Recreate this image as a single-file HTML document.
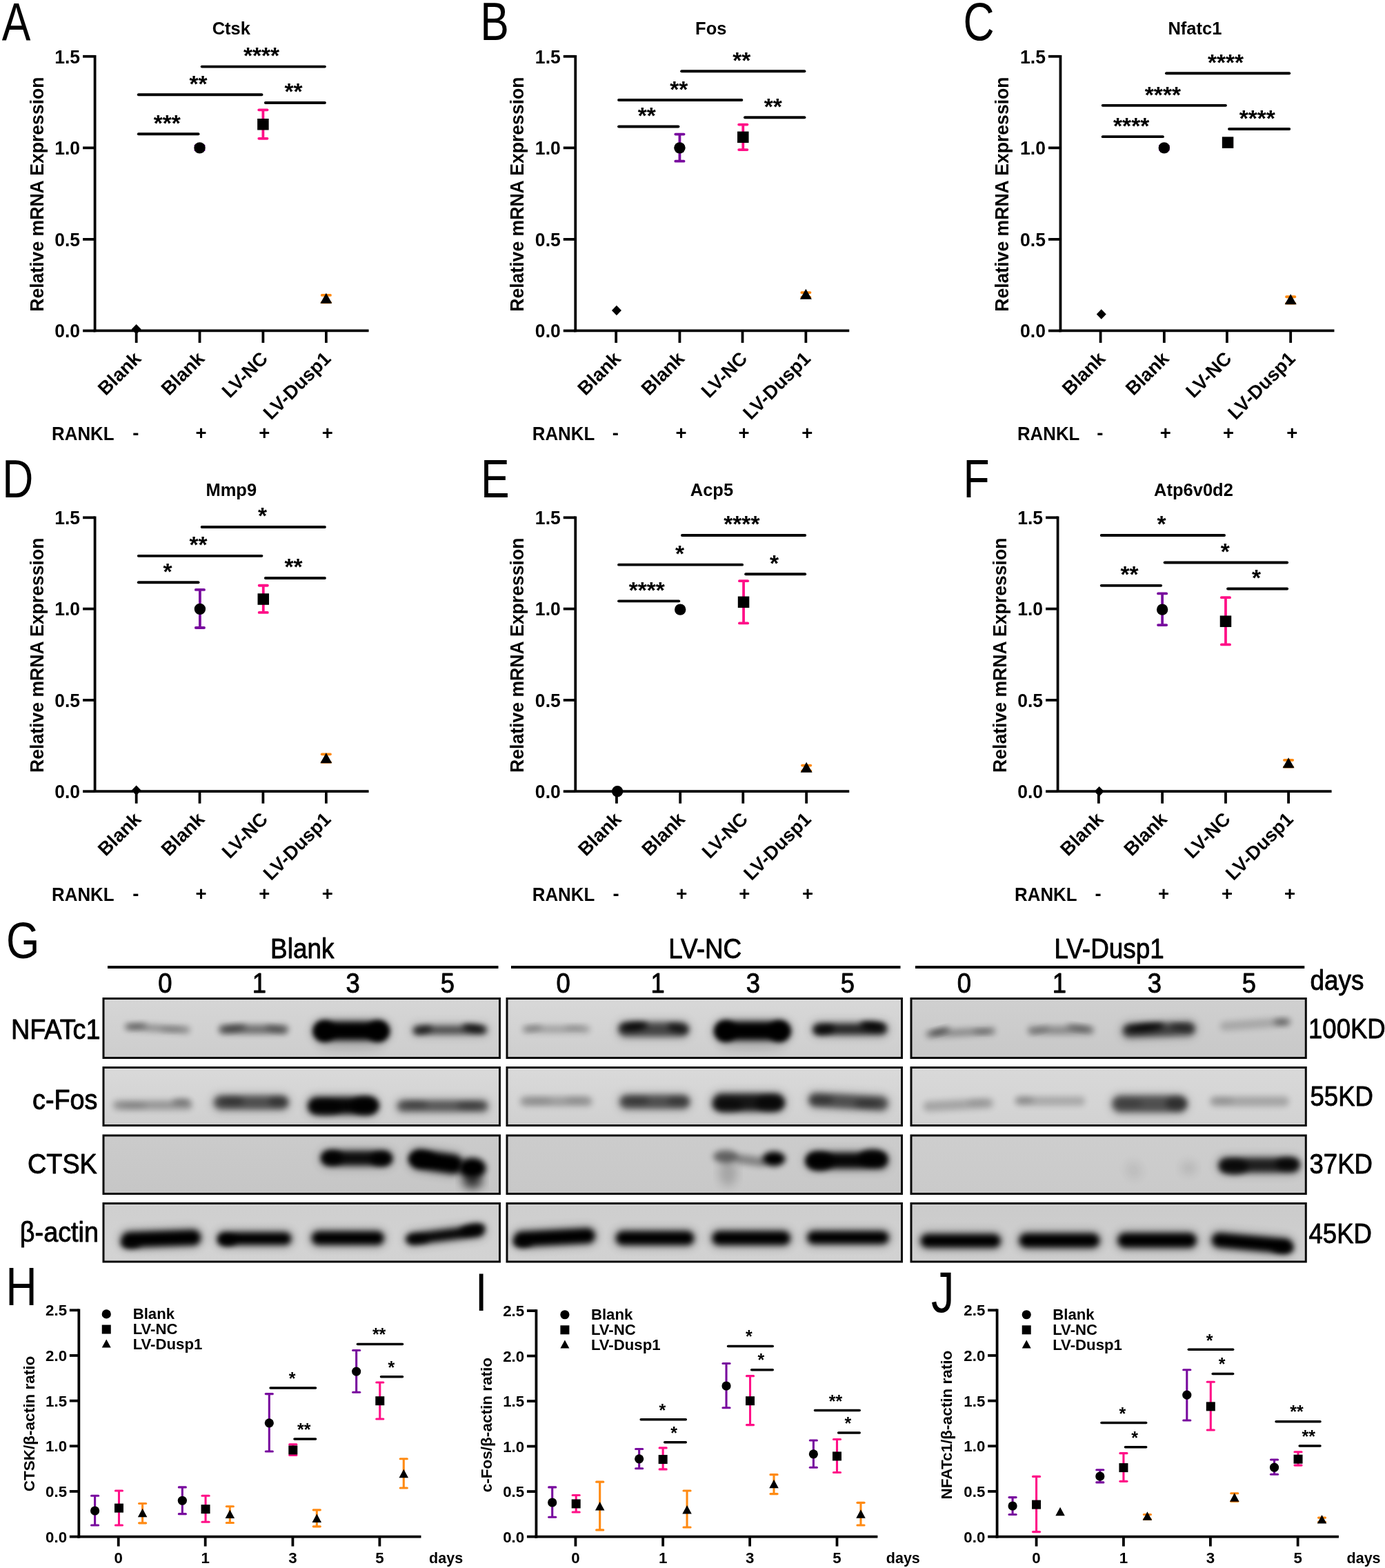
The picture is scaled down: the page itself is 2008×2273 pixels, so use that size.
<!DOCTYPE html>
<html><head><meta charset="utf-8"><title>Figure</title>
<style>html,body{margin:0;padding:0;background:#fff}svg{display:block}</style></head>
<body><svg width="2008" height="2273" viewBox="0 0 2008 2273">
<rect width="2008" height="2273" fill="#fff"/>
<g transform="translate(2.76 59.3) scale(0.8 1)"><text x="0" y="0" font-size="78" text-anchor="start" font-family="Liberation Sans, Arial, sans-serif">A</text></g>
<text x="335.27" y="50.39" font-size="25.5" text-anchor="middle" font-family="Liberation Sans, Arial, sans-serif" font-weight="bold">Ctsk</text>
<line x1="137.6" y1="79.88" x2="137.6" y2="481.36" stroke="#000" stroke-width="3.8" stroke-linecap="butt"/>
<line x1="135.7" y1="479.46" x2="534.6" y2="479.46" stroke="#000" stroke-width="3.8" stroke-linecap="butt"/>
<line x1="120.1" y1="81.78" x2="137.6" y2="81.78" stroke="#000" stroke-width="3.8" stroke-linecap="butt"/>
<g transform="translate(116.1 91.58) scale(0.965 1)"><text x="0" y="0" font-size="27.5" text-anchor="end" font-family="Liberation Sans, Arial, sans-serif" font-weight="bold">1.5</text></g>
<line x1="120.1" y1="214.34" x2="137.6" y2="214.34" stroke="#000" stroke-width="3.8" stroke-linecap="butt"/>
<g transform="translate(116.1 224.14) scale(0.965 1)"><text x="0" y="0" font-size="27.5" text-anchor="end" font-family="Liberation Sans, Arial, sans-serif" font-weight="bold">1.0</text></g>
<line x1="120.1" y1="346.9" x2="137.6" y2="346.9" stroke="#000" stroke-width="3.8" stroke-linecap="butt"/>
<g transform="translate(116.1 356.7) scale(0.965 1)"><text x="0" y="0" font-size="27.5" text-anchor="end" font-family="Liberation Sans, Arial, sans-serif" font-weight="bold">0.5</text></g>
<line x1="120.1" y1="479.46" x2="137.6" y2="479.46" stroke="#000" stroke-width="3.8" stroke-linecap="butt"/>
<g transform="translate(116.1 489.26) scale(0.965 1)"><text x="0" y="0" font-size="27.5" text-anchor="end" font-family="Liberation Sans, Arial, sans-serif" font-weight="bold">0.0</text></g>
<line x1="197.67" y1="479.46" x2="197.67" y2="496.96" stroke="#000" stroke-width="3.8" stroke-linecap="butt"/>
<line x1="289.53" y1="479.46" x2="289.53" y2="496.96" stroke="#000" stroke-width="3.8" stroke-linecap="butt"/>
<line x1="381.4" y1="479.46" x2="381.4" y2="496.96" stroke="#000" stroke-width="3.8" stroke-linecap="butt"/>
<line x1="472.87" y1="479.46" x2="472.87" y2="496.96" stroke="#000" stroke-width="3.8" stroke-linecap="butt"/>
<g transform="translate(62.6 281.62) rotate(-90) scale(0.967 1)"><text x="0" y="0" font-size="27.5" text-anchor="middle" font-family="Liberation Sans, Arial, sans-serif" font-weight="bold">Relative mRNA Expression</text></g>
<text x="206.17" y="521.46" font-size="27.5" text-anchor="end" font-family="Liberation Sans, Arial, sans-serif" font-weight="bold" transform="rotate(-45 206.17 521.46)">Blank</text>
<text x="298.03" y="521.46" font-size="27.5" text-anchor="end" font-family="Liberation Sans, Arial, sans-serif" font-weight="bold" transform="rotate(-45 298.03 521.46)">Blank</text>
<text x="389.9" y="521.46" font-size="27.5" text-anchor="end" font-family="Liberation Sans, Arial, sans-serif" font-weight="bold" transform="rotate(-45 389.9 521.46)">LV-NC</text>
<text x="481.37" y="521.46" font-size="27.5" text-anchor="end" font-family="Liberation Sans, Arial, sans-serif" font-weight="bold" transform="rotate(-45 481.37 521.46)">LV-Dusp1</text>
<g transform="translate(75.1 637.96) scale(0.94 1)"><text x="0" y="0" font-size="27.5" font-family="Liberation Sans, Arial, sans-serif" font-weight="bold">RANKL</text></g>
<text x="196.87" y="636.96" font-size="27.5" text-anchor="middle" font-family="Liberation Sans, Arial, sans-serif" font-weight="bold">-</text>
<text x="291.53" y="636.96" font-size="27.5" text-anchor="middle" font-family="Liberation Sans, Arial, sans-serif" font-weight="bold">+</text>
<text x="383.4" y="636.96" font-size="27.5" text-anchor="middle" font-family="Liberation Sans, Arial, sans-serif" font-weight="bold">+</text>
<text x="474.87" y="636.96" font-size="27.5" text-anchor="middle" font-family="Liberation Sans, Arial, sans-serif" font-weight="bold">+</text>
<polygon points="197.67,469.88 204.67,477.13 197.67,484.38 190.67,477.13"/>
<line x1="289.53" y1="211.24" x2="289.53" y2="217.44" stroke="#780a9e" stroke-width="3.8" stroke-linecap="butt"/>
<line x1="283.43" y1="211.24" x2="295.63" y2="211.24" stroke="#780a9e" stroke-width="3.8" stroke-linecap="round"/>
<line x1="283.43" y1="217.44" x2="295.63" y2="217.44" stroke="#780a9e" stroke-width="3.8" stroke-linecap="round"/>
<circle cx="289.53" cy="214.34" r="8.2"/>
<line x1="381.4" y1="159.3" x2="381.4" y2="200.78" stroke="#ff0f87" stroke-width="3.8" stroke-linecap="butt"/>
<line x1="375.3" y1="159.3" x2="387.5" y2="159.3" stroke="#ff0f87" stroke-width="3.8" stroke-linecap="round"/>
<line x1="375.3" y1="200.78" x2="387.5" y2="200.78" stroke="#ff0f87" stroke-width="3.8" stroke-linecap="round"/>
<rect x="373.15" y="171.98" width="16.5" height="16.5"/>
<line x1="472.87" y1="427.91" x2="472.87" y2="438.37" stroke="#ff8a12" stroke-width="3.8" stroke-linecap="butt"/>
<line x1="466.77" y1="427.91" x2="478.97" y2="427.91" stroke="#ff8a12" stroke-width="3.8" stroke-linecap="round"/>
<line x1="466.77" y1="438.37" x2="478.97" y2="438.37" stroke="#ff8a12" stroke-width="3.8" stroke-linecap="round"/>
<polygon points="472.87,424.63 481.37,439.63 464.37,439.63"/>
<line x1="200.79" y1="194.3" x2="287.58" y2="194.3" stroke="#000" stroke-width="3.9" stroke-linecap="round"/>
<text x="242.25" y="190.42" font-size="33.5" text-anchor="middle" font-family="Liberation Sans, Arial, sans-serif" font-weight="bold">***</text>
<line x1="200.79" y1="137.32" x2="379.45" y2="137.32" stroke="#000" stroke-width="3.9" stroke-linecap="round"/>
<text x="287.6" y="133.44" font-size="33.5" text-anchor="middle" font-family="Liberation Sans, Arial, sans-serif" font-weight="bold">**</text>
<line x1="292.65" y1="96.62" x2="470.92" y2="96.62" stroke="#000" stroke-width="3.9" stroke-linecap="round"/>
<text x="379.07" y="92.36" font-size="33.5" text-anchor="middle" font-family="Liberation Sans, Arial, sans-serif" font-weight="bold">****</text>
<line x1="384.9" y1="148.95" x2="470.92" y2="148.95" stroke="#000" stroke-width="3.9" stroke-linecap="round"/>
<text x="425.58" y="143.91" font-size="33.5" text-anchor="middle" font-family="Liberation Sans, Arial, sans-serif" font-weight="bold">**</text>
<g transform="translate(696.33 58.14) scale(0.8 1)"><text x="0" y="0" font-size="78" text-anchor="start" font-family="Liberation Sans, Arial, sans-serif">B</text></g>
<text x="1030.78" y="50.39" font-size="25.5" text-anchor="middle" font-family="Liberation Sans, Arial, sans-serif" font-weight="bold">Fos</text>
<line x1="834.26" y1="79.88" x2="834.26" y2="481.36" stroke="#000" stroke-width="3.8" stroke-linecap="butt"/>
<line x1="832.36" y1="479.46" x2="1231.26" y2="479.46" stroke="#000" stroke-width="3.8" stroke-linecap="butt"/>
<line x1="816.76" y1="81.78" x2="834.26" y2="81.78" stroke="#000" stroke-width="3.8" stroke-linecap="butt"/>
<g transform="translate(812.76 91.58) scale(0.965 1)"><text x="0" y="0" font-size="27.5" text-anchor="end" font-family="Liberation Sans, Arial, sans-serif" font-weight="bold">1.5</text></g>
<line x1="816.76" y1="214.34" x2="834.26" y2="214.34" stroke="#000" stroke-width="3.8" stroke-linecap="butt"/>
<g transform="translate(812.76 224.14) scale(0.965 1)"><text x="0" y="0" font-size="27.5" text-anchor="end" font-family="Liberation Sans, Arial, sans-serif" font-weight="bold">1.0</text></g>
<line x1="816.76" y1="346.9" x2="834.26" y2="346.9" stroke="#000" stroke-width="3.8" stroke-linecap="butt"/>
<g transform="translate(812.76 356.7) scale(0.965 1)"><text x="0" y="0" font-size="27.5" text-anchor="end" font-family="Liberation Sans, Arial, sans-serif" font-weight="bold">0.5</text></g>
<line x1="816.76" y1="479.46" x2="834.26" y2="479.46" stroke="#000" stroke-width="3.8" stroke-linecap="butt"/>
<g transform="translate(812.76 489.26) scale(0.965 1)"><text x="0" y="0" font-size="27.5" text-anchor="end" font-family="Liberation Sans, Arial, sans-serif" font-weight="bold">0.0</text></g>
<line x1="893.18" y1="479.46" x2="893.18" y2="496.96" stroke="#000" stroke-width="3.8" stroke-linecap="butt"/>
<line x1="985.43" y1="479.46" x2="985.43" y2="496.96" stroke="#000" stroke-width="3.8" stroke-linecap="butt"/>
<line x1="1076.51" y1="479.46" x2="1076.51" y2="496.96" stroke="#000" stroke-width="3.8" stroke-linecap="butt"/>
<line x1="1168.37" y1="479.46" x2="1168.37" y2="496.96" stroke="#000" stroke-width="3.8" stroke-linecap="butt"/>
<g transform="translate(759.26 281.62) rotate(-90) scale(0.967 1)"><text x="0" y="0" font-size="27.5" text-anchor="middle" font-family="Liberation Sans, Arial, sans-serif" font-weight="bold">Relative mRNA Expression</text></g>
<text x="901.68" y="521.46" font-size="27.5" text-anchor="end" font-family="Liberation Sans, Arial, sans-serif" font-weight="bold" transform="rotate(-45 901.68 521.46)">Blank</text>
<text x="993.93" y="521.46" font-size="27.5" text-anchor="end" font-family="Liberation Sans, Arial, sans-serif" font-weight="bold" transform="rotate(-45 993.93 521.46)">Blank</text>
<text x="1085.01" y="521.46" font-size="27.5" text-anchor="end" font-family="Liberation Sans, Arial, sans-serif" font-weight="bold" transform="rotate(-45 1085.01 521.46)">LV-NC</text>
<text x="1176.87" y="521.46" font-size="27.5" text-anchor="end" font-family="Liberation Sans, Arial, sans-serif" font-weight="bold" transform="rotate(-45 1176.87 521.46)">LV-Dusp1</text>
<g transform="translate(771.76 637.96) scale(0.94 1)"><text x="0" y="0" font-size="27.5" font-family="Liberation Sans, Arial, sans-serif" font-weight="bold">RANKL</text></g>
<text x="892.38" y="636.96" font-size="27.5" text-anchor="middle" font-family="Liberation Sans, Arial, sans-serif" font-weight="bold">-</text>
<text x="987.43" y="636.96" font-size="27.5" text-anchor="middle" font-family="Liberation Sans, Arial, sans-serif" font-weight="bold">+</text>
<text x="1078.51" y="636.96" font-size="27.5" text-anchor="middle" font-family="Liberation Sans, Arial, sans-serif" font-weight="bold">+</text>
<text x="1170.37" y="636.96" font-size="27.5" text-anchor="middle" font-family="Liberation Sans, Arial, sans-serif" font-weight="bold">+</text>
<polygon points="893.95,442.75 900.95,450 893.95,457.25 886.95,450"/>
<line x1="985.43" y1="194.57" x2="985.43" y2="233.72" stroke="#780a9e" stroke-width="3.8" stroke-linecap="butt"/>
<line x1="979.33" y1="194.57" x2="991.53" y2="194.57" stroke="#780a9e" stroke-width="3.8" stroke-linecap="round"/>
<line x1="979.33" y1="233.72" x2="991.53" y2="233.72" stroke="#780a9e" stroke-width="3.8" stroke-linecap="round"/>
<circle cx="985.43" cy="214.34" r="8.2"/>
<line x1="1077.29" y1="180.62" x2="1077.29" y2="217.05" stroke="#ff0f87" stroke-width="3.8" stroke-linecap="butt"/>
<line x1="1071.19" y1="180.62" x2="1083.39" y2="180.62" stroke="#ff0f87" stroke-width="3.8" stroke-linecap="round"/>
<line x1="1071.19" y1="217.05" x2="1083.39" y2="217.05" stroke="#ff0f87" stroke-width="3.8" stroke-linecap="round"/>
<rect x="1069.04" y="190.59" width="16.5" height="16.5"/>
<line x1="1168.37" y1="424.03" x2="1168.37" y2="431.01" stroke="#ff8a12" stroke-width="3.8" stroke-linecap="butt"/>
<line x1="1162.27" y1="424.03" x2="1174.47" y2="424.03" stroke="#ff8a12" stroke-width="3.8" stroke-linecap="round"/>
<line x1="1162.27" y1="431.01" x2="1174.47" y2="431.01" stroke="#ff8a12" stroke-width="3.8" stroke-linecap="round"/>
<polygon points="1168.37,418.82 1176.87,433.82 1159.87,433.82"/>
<line x1="897.07" y1="183.45" x2="983.48" y2="183.45" stroke="#000" stroke-width="3.9" stroke-linecap="round"/>
<text x="937.75" y="178.79" font-size="33.5" text-anchor="middle" font-family="Liberation Sans, Arial, sans-serif" font-weight="bold">**</text>
<line x1="897.07" y1="145.07" x2="1075.34" y2="145.07" stroke="#000" stroke-width="3.9" stroke-linecap="round"/>
<text x="984.26" y="140.81" font-size="33.5" text-anchor="middle" font-family="Liberation Sans, Arial, sans-serif" font-weight="bold">**</text>
<line x1="988.15" y1="103.21" x2="1166.42" y2="103.21" stroke="#000" stroke-width="3.9" stroke-linecap="round"/>
<text x="1075.35" y="98.56" font-size="33.5" text-anchor="middle" font-family="Liberation Sans, Arial, sans-serif" font-weight="bold">**</text>
<line x1="1080.01" y1="170.27" x2="1166.42" y2="170.27" stroke="#000" stroke-width="3.9" stroke-linecap="round"/>
<text x="1120.7" y="166" font-size="33.5" text-anchor="middle" font-family="Liberation Sans, Arial, sans-serif" font-weight="bold">**</text>
<g transform="translate(1396.42 58.14) scale(0.8 1)"><text x="0" y="0" font-size="78" text-anchor="start" font-family="Liberation Sans, Arial, sans-serif">C</text></g>
<text x="1732.42" y="50.39" font-size="25.5" text-anchor="middle" font-family="Liberation Sans, Arial, sans-serif" font-weight="bold">Nfatc1</text>
<line x1="1537.46" y1="79.88" x2="1537.46" y2="481.36" stroke="#000" stroke-width="3.8" stroke-linecap="butt"/>
<line x1="1535.56" y1="479.46" x2="1934.46" y2="479.46" stroke="#000" stroke-width="3.8" stroke-linecap="butt"/>
<line x1="1519.96" y1="81.78" x2="1537.46" y2="81.78" stroke="#000" stroke-width="3.8" stroke-linecap="butt"/>
<g transform="translate(1515.96 91.58) scale(0.965 1)"><text x="0" y="0" font-size="27.5" text-anchor="end" font-family="Liberation Sans, Arial, sans-serif" font-weight="bold">1.5</text></g>
<line x1="1519.96" y1="214.34" x2="1537.46" y2="214.34" stroke="#000" stroke-width="3.8" stroke-linecap="butt"/>
<g transform="translate(1515.96 224.14) scale(0.965 1)"><text x="0" y="0" font-size="27.5" text-anchor="end" font-family="Liberation Sans, Arial, sans-serif" font-weight="bold">1.0</text></g>
<line x1="1519.96" y1="346.9" x2="1537.46" y2="346.9" stroke="#000" stroke-width="3.8" stroke-linecap="butt"/>
<g transform="translate(1515.96 356.7) scale(0.965 1)"><text x="0" y="0" font-size="27.5" text-anchor="end" font-family="Liberation Sans, Arial, sans-serif" font-weight="bold">0.5</text></g>
<line x1="1519.96" y1="479.46" x2="1537.46" y2="479.46" stroke="#000" stroke-width="3.8" stroke-linecap="butt"/>
<g transform="translate(1515.96 489.26) scale(0.965 1)"><text x="0" y="0" font-size="27.5" text-anchor="end" font-family="Liberation Sans, Arial, sans-serif" font-weight="bold">0.0</text></g>
<line x1="1595.6" y1="479.46" x2="1595.6" y2="496.96" stroke="#000" stroke-width="3.8" stroke-linecap="butt"/>
<line x1="1687.84" y1="479.46" x2="1687.84" y2="496.96" stroke="#000" stroke-width="3.8" stroke-linecap="butt"/>
<line x1="1778.93" y1="479.46" x2="1778.93" y2="496.96" stroke="#000" stroke-width="3.8" stroke-linecap="butt"/>
<line x1="1871.18" y1="479.46" x2="1871.18" y2="496.96" stroke="#000" stroke-width="3.8" stroke-linecap="butt"/>
<g transform="translate(1462.46 281.62) rotate(-90) scale(0.967 1)"><text x="0" y="0" font-size="27.5" text-anchor="middle" font-family="Liberation Sans, Arial, sans-serif" font-weight="bold">Relative mRNA Expression</text></g>
<text x="1604.1" y="521.46" font-size="27.5" text-anchor="end" font-family="Liberation Sans, Arial, sans-serif" font-weight="bold" transform="rotate(-45 1604.1 521.46)">Blank</text>
<text x="1696.34" y="521.46" font-size="27.5" text-anchor="end" font-family="Liberation Sans, Arial, sans-serif" font-weight="bold" transform="rotate(-45 1696.34 521.46)">Blank</text>
<text x="1787.43" y="521.46" font-size="27.5" text-anchor="end" font-family="Liberation Sans, Arial, sans-serif" font-weight="bold" transform="rotate(-45 1787.43 521.46)">LV-NC</text>
<text x="1879.68" y="521.46" font-size="27.5" text-anchor="end" font-family="Liberation Sans, Arial, sans-serif" font-weight="bold" transform="rotate(-45 1879.68 521.46)">LV-Dusp1</text>
<g transform="translate(1474.96 637.96) scale(0.94 1)"><text x="0" y="0" font-size="27.5" font-family="Liberation Sans, Arial, sans-serif" font-weight="bold">RANKL</text></g>
<text x="1594.8" y="636.96" font-size="27.5" text-anchor="middle" font-family="Liberation Sans, Arial, sans-serif" font-weight="bold">-</text>
<text x="1689.84" y="636.96" font-size="27.5" text-anchor="middle" font-family="Liberation Sans, Arial, sans-serif" font-weight="bold">+</text>
<text x="1780.93" y="636.96" font-size="27.5" text-anchor="middle" font-family="Liberation Sans, Arial, sans-serif" font-weight="bold">+</text>
<text x="1873.18" y="636.96" font-size="27.5" text-anchor="middle" font-family="Liberation Sans, Arial, sans-serif" font-weight="bold">+</text>
<polygon points="1596.76,448.18 1603.76,455.43 1596.76,462.68 1589.76,455.43"/>
<line x1="1687.84" y1="211.63" x2="1687.84" y2="217.05" stroke="#780a9e" stroke-width="3.8" stroke-linecap="butt"/>
<line x1="1681.74" y1="211.63" x2="1693.94" y2="211.63" stroke="#780a9e" stroke-width="3.8" stroke-linecap="round"/>
<line x1="1681.74" y1="217.05" x2="1693.94" y2="217.05" stroke="#780a9e" stroke-width="3.8" stroke-linecap="round"/>
<circle cx="1687.84" cy="214.34" r="8.2"/>
<line x1="1780.09" y1="203.1" x2="1780.09" y2="210.85" stroke="#ff0f87" stroke-width="3.8" stroke-linecap="butt"/>
<line x1="1773.99" y1="203.1" x2="1786.19" y2="203.1" stroke="#ff0f87" stroke-width="3.8" stroke-linecap="round"/>
<line x1="1773.99" y1="210.85" x2="1786.19" y2="210.85" stroke="#ff0f87" stroke-width="3.8" stroke-linecap="round"/>
<rect x="1771.84" y="198.34" width="16.5" height="16.5"/>
<line x1="1871.18" y1="430.23" x2="1871.18" y2="439.53" stroke="#ff8a12" stroke-width="3.8" stroke-linecap="butt"/>
<line x1="1865.08" y1="430.23" x2="1877.28" y2="430.23" stroke="#ff8a12" stroke-width="3.8" stroke-linecap="round"/>
<line x1="1865.08" y1="439.53" x2="1877.28" y2="439.53" stroke="#ff8a12" stroke-width="3.8" stroke-linecap="round"/>
<polygon points="1871.18,426.18 1879.68,441.18 1862.68,441.18"/>
<line x1="1598.71" y1="198.17" x2="1685.89" y2="198.17" stroke="#000" stroke-width="3.9" stroke-linecap="round"/>
<text x="1640.17" y="193.52" font-size="33.5" text-anchor="middle" font-family="Liberation Sans, Arial, sans-serif" font-weight="bold">****</text>
<line x1="1598.71" y1="152.83" x2="1776.98" y2="152.83" stroke="#000" stroke-width="3.9" stroke-linecap="round"/>
<text x="1685.91" y="148.56" font-size="33.5" text-anchor="middle" font-family="Liberation Sans, Arial, sans-serif" font-weight="bold">****</text>
<line x1="1690.96" y1="106.31" x2="1869.23" y2="106.31" stroke="#000" stroke-width="3.9" stroke-linecap="round"/>
<text x="1776.99" y="102.43" font-size="33.5" text-anchor="middle" font-family="Liberation Sans, Arial, sans-serif" font-weight="bold">****</text>
<line x1="1782.04" y1="186.93" x2="1869.23" y2="186.93" stroke="#000" stroke-width="3.9" stroke-linecap="round"/>
<text x="1822.73" y="182.67" font-size="33.5" text-anchor="middle" font-family="Liberation Sans, Arial, sans-serif" font-weight="bold">****</text>
<g transform="translate(3.15 721.24) scale(0.8 1)"><text x="0" y="0" font-size="78" text-anchor="start" font-family="Liberation Sans, Arial, sans-serif">D</text></g>
<text x="335.27" y="719.3" font-size="25.5" text-anchor="middle" font-family="Liberation Sans, Arial, sans-serif" font-weight="bold">Mmp9</text>
<line x1="137.6" y1="748.41" x2="137.6" y2="1149.11" stroke="#000" stroke-width="3.8" stroke-linecap="butt"/>
<line x1="135.7" y1="1147.21" x2="534.6" y2="1147.21" stroke="#000" stroke-width="3.8" stroke-linecap="butt"/>
<line x1="120.1" y1="750.31" x2="137.6" y2="750.31" stroke="#000" stroke-width="3.8" stroke-linecap="butt"/>
<g transform="translate(116.1 760.11) scale(0.965 1)"><text x="0" y="0" font-size="27.5" text-anchor="end" font-family="Liberation Sans, Arial, sans-serif" font-weight="bold">1.5</text></g>
<line x1="120.1" y1="882.61" x2="137.6" y2="882.61" stroke="#000" stroke-width="3.8" stroke-linecap="butt"/>
<g transform="translate(116.1 892.41) scale(0.965 1)"><text x="0" y="0" font-size="27.5" text-anchor="end" font-family="Liberation Sans, Arial, sans-serif" font-weight="bold">1.0</text></g>
<line x1="120.1" y1="1014.91" x2="137.6" y2="1014.91" stroke="#000" stroke-width="3.8" stroke-linecap="butt"/>
<g transform="translate(116.1 1024.71) scale(0.965 1)"><text x="0" y="0" font-size="27.5" text-anchor="end" font-family="Liberation Sans, Arial, sans-serif" font-weight="bold">0.5</text></g>
<line x1="120.1" y1="1147.21" x2="137.6" y2="1147.21" stroke="#000" stroke-width="3.8" stroke-linecap="butt"/>
<g transform="translate(116.1 1157.01) scale(0.965 1)"><text x="0" y="0" font-size="27.5" text-anchor="end" font-family="Liberation Sans, Arial, sans-serif" font-weight="bold">0.0</text></g>
<line x1="197.67" y1="1147.21" x2="197.67" y2="1164.71" stroke="#000" stroke-width="3.8" stroke-linecap="butt"/>
<line x1="289.53" y1="1147.21" x2="289.53" y2="1164.71" stroke="#000" stroke-width="3.8" stroke-linecap="butt"/>
<line x1="381.4" y1="1147.21" x2="381.4" y2="1164.71" stroke="#000" stroke-width="3.8" stroke-linecap="butt"/>
<line x1="472.87" y1="1147.21" x2="472.87" y2="1164.71" stroke="#000" stroke-width="3.8" stroke-linecap="butt"/>
<g transform="translate(62.6 949.76) rotate(-90) scale(0.967 1)"><text x="0" y="0" font-size="27.5" text-anchor="middle" font-family="Liberation Sans, Arial, sans-serif" font-weight="bold">Relative mRNA Expression</text></g>
<text x="206.17" y="1189.21" font-size="27.5" text-anchor="end" font-family="Liberation Sans, Arial, sans-serif" font-weight="bold" transform="rotate(-45 206.17 1189.21)">Blank</text>
<text x="298.03" y="1189.21" font-size="27.5" text-anchor="end" font-family="Liberation Sans, Arial, sans-serif" font-weight="bold" transform="rotate(-45 298.03 1189.21)">Blank</text>
<text x="389.9" y="1189.21" font-size="27.5" text-anchor="end" font-family="Liberation Sans, Arial, sans-serif" font-weight="bold" transform="rotate(-45 389.9 1189.21)">LV-NC</text>
<text x="481.37" y="1189.21" font-size="27.5" text-anchor="end" font-family="Liberation Sans, Arial, sans-serif" font-weight="bold" transform="rotate(-45 481.37 1189.21)">LV-Dusp1</text>
<g transform="translate(75.1 1305.71) scale(0.94 1)"><text x="0" y="0" font-size="27.5" font-family="Liberation Sans, Arial, sans-serif" font-weight="bold">RANKL</text></g>
<text x="196.87" y="1304.71" font-size="27.5" text-anchor="middle" font-family="Liberation Sans, Arial, sans-serif" font-weight="bold">-</text>
<text x="291.53" y="1304.71" font-size="27.5" text-anchor="middle" font-family="Liberation Sans, Arial, sans-serif" font-weight="bold">+</text>
<text x="383.4" y="1304.71" font-size="27.5" text-anchor="middle" font-family="Liberation Sans, Arial, sans-serif" font-weight="bold">+</text>
<text x="474.87" y="1304.71" font-size="27.5" text-anchor="middle" font-family="Liberation Sans, Arial, sans-serif" font-weight="bold">+</text>
<polygon points="197.67,1138.41 204.67,1145.66 197.67,1152.91 190.67,1145.66"/>
<line x1="289.92" y1="854.96" x2="289.92" y2="910" stroke="#780a9e" stroke-width="3.8" stroke-linecap="butt"/>
<line x1="283.82" y1="854.96" x2="296.02" y2="854.96" stroke="#780a9e" stroke-width="3.8" stroke-linecap="round"/>
<line x1="283.82" y1="910" x2="296.02" y2="910" stroke="#780a9e" stroke-width="3.8" stroke-linecap="round"/>
<circle cx="289.92" cy="882.87" r="8.2"/>
<line x1="381.78" y1="848.76" x2="381.78" y2="887.91" stroke="#ff0f87" stroke-width="3.8" stroke-linecap="butt"/>
<line x1="375.68" y1="848.76" x2="387.88" y2="848.76" stroke="#ff0f87" stroke-width="3.8" stroke-linecap="round"/>
<line x1="375.68" y1="887.91" x2="387.88" y2="887.91" stroke="#ff0f87" stroke-width="3.8" stroke-linecap="round"/>
<rect x="373.53" y="860.28" width="16.5" height="16.5"/>
<line x1="472.87" y1="1093.33" x2="472.87" y2="1104.96" stroke="#ff8a12" stroke-width="3.8" stroke-linecap="butt"/>
<line x1="466.77" y1="1093.33" x2="478.97" y2="1093.33" stroke="#ff8a12" stroke-width="3.8" stroke-linecap="round"/>
<line x1="466.77" y1="1104.96" x2="478.97" y2="1104.96" stroke="#ff8a12" stroke-width="3.8" stroke-linecap="round"/>
<polygon points="472.87,1091.22 481.37,1106.22 464.37,1106.22"/>
<line x1="200.79" y1="844.22" x2="287.58" y2="844.22" stroke="#000" stroke-width="3.9" stroke-linecap="round"/>
<text x="243.02" y="839.57" font-size="33.5" text-anchor="middle" font-family="Liberation Sans, Arial, sans-serif" font-weight="bold">*</text>
<line x1="200.79" y1="805.85" x2="379.45" y2="805.85" stroke="#000" stroke-width="3.9" stroke-linecap="round"/>
<text x="287.6" y="801.19" font-size="33.5" text-anchor="middle" font-family="Liberation Sans, Arial, sans-serif" font-weight="bold">**</text>
<line x1="292.65" y1="763.99" x2="470.92" y2="763.99" stroke="#000" stroke-width="3.9" stroke-linecap="round"/>
<text x="380.62" y="759.33" font-size="33.5" text-anchor="middle" font-family="Liberation Sans, Arial, sans-serif" font-weight="bold">*</text>
<line x1="384.9" y1="838.02" x2="470.92" y2="838.02" stroke="#000" stroke-width="3.9" stroke-linecap="round"/>
<text x="425.58" y="832.98" font-size="33.5" text-anchor="middle" font-family="Liberation Sans, Arial, sans-serif" font-weight="bold">**</text>
<g transform="translate(697.1 721.24) scale(0.8 1)"><text x="0" y="0" font-size="78" text-anchor="start" font-family="Liberation Sans, Arial, sans-serif">E</text></g>
<text x="1031.94" y="719.3" font-size="25.5" text-anchor="middle" font-family="Liberation Sans, Arial, sans-serif" font-weight="bold">Acp5</text>
<line x1="834.26" y1="748.41" x2="834.26" y2="1149.11" stroke="#000" stroke-width="3.8" stroke-linecap="butt"/>
<line x1="832.36" y1="1147.21" x2="1231.26" y2="1147.21" stroke="#000" stroke-width="3.8" stroke-linecap="butt"/>
<line x1="816.76" y1="750.31" x2="834.26" y2="750.31" stroke="#000" stroke-width="3.8" stroke-linecap="butt"/>
<g transform="translate(812.76 760.11) scale(0.965 1)"><text x="0" y="0" font-size="27.5" text-anchor="end" font-family="Liberation Sans, Arial, sans-serif" font-weight="bold">1.5</text></g>
<line x1="816.76" y1="882.61" x2="834.26" y2="882.61" stroke="#000" stroke-width="3.8" stroke-linecap="butt"/>
<g transform="translate(812.76 892.41) scale(0.965 1)"><text x="0" y="0" font-size="27.5" text-anchor="end" font-family="Liberation Sans, Arial, sans-serif" font-weight="bold">1.0</text></g>
<line x1="816.76" y1="1014.91" x2="834.26" y2="1014.91" stroke="#000" stroke-width="3.8" stroke-linecap="butt"/>
<g transform="translate(812.76 1024.71) scale(0.965 1)"><text x="0" y="0" font-size="27.5" text-anchor="end" font-family="Liberation Sans, Arial, sans-serif" font-weight="bold">0.5</text></g>
<line x1="816.76" y1="1147.21" x2="834.26" y2="1147.21" stroke="#000" stroke-width="3.8" stroke-linecap="butt"/>
<g transform="translate(812.76 1157.01) scale(0.965 1)"><text x="0" y="0" font-size="27.5" text-anchor="end" font-family="Liberation Sans, Arial, sans-serif" font-weight="bold">0.0</text></g>
<line x1="893.95" y1="1147.21" x2="893.95" y2="1164.71" stroke="#000" stroke-width="3.8" stroke-linecap="butt"/>
<line x1="986.2" y1="1147.21" x2="986.2" y2="1164.71" stroke="#000" stroke-width="3.8" stroke-linecap="butt"/>
<line x1="1077.29" y1="1147.21" x2="1077.29" y2="1164.71" stroke="#000" stroke-width="3.8" stroke-linecap="butt"/>
<line x1="1169.15" y1="1147.21" x2="1169.15" y2="1164.71" stroke="#000" stroke-width="3.8" stroke-linecap="butt"/>
<g transform="translate(759.26 949.76) rotate(-90) scale(0.967 1)"><text x="0" y="0" font-size="27.5" text-anchor="middle" font-family="Liberation Sans, Arial, sans-serif" font-weight="bold">Relative mRNA Expression</text></g>
<text x="902.45" y="1189.21" font-size="27.5" text-anchor="end" font-family="Liberation Sans, Arial, sans-serif" font-weight="bold" transform="rotate(-45 902.45 1189.21)">Blank</text>
<text x="994.7" y="1189.21" font-size="27.5" text-anchor="end" font-family="Liberation Sans, Arial, sans-serif" font-weight="bold" transform="rotate(-45 994.7 1189.21)">Blank</text>
<text x="1085.79" y="1189.21" font-size="27.5" text-anchor="end" font-family="Liberation Sans, Arial, sans-serif" font-weight="bold" transform="rotate(-45 1085.79 1189.21)">LV-NC</text>
<text x="1177.65" y="1189.21" font-size="27.5" text-anchor="end" font-family="Liberation Sans, Arial, sans-serif" font-weight="bold" transform="rotate(-45 1177.65 1189.21)">LV-Dusp1</text>
<g transform="translate(771.76 1305.71) scale(0.94 1)"><text x="0" y="0" font-size="27.5" font-family="Liberation Sans, Arial, sans-serif" font-weight="bold">RANKL</text></g>
<text x="893.15" y="1304.71" font-size="27.5" text-anchor="middle" font-family="Liberation Sans, Arial, sans-serif" font-weight="bold">-</text>
<text x="988.2" y="1304.71" font-size="27.5" text-anchor="middle" font-family="Liberation Sans, Arial, sans-serif" font-weight="bold">+</text>
<text x="1079.29" y="1304.71" font-size="27.5" text-anchor="middle" font-family="Liberation Sans, Arial, sans-serif" font-weight="bold">+</text>
<text x="1171.15" y="1304.71" font-size="27.5" text-anchor="middle" font-family="Liberation Sans, Arial, sans-serif" font-weight="bold">+</text>
<circle cx="895.12" cy="1147.21" r="8.2"/>
<circle cx="986.2" cy="883.64" r="8.2"/>
<line x1="1078.06" y1="842.17" x2="1078.06" y2="903.41" stroke="#ff0f87" stroke-width="3.8" stroke-linecap="butt"/>
<line x1="1071.96" y1="842.17" x2="1084.16" y2="842.17" stroke="#ff0f87" stroke-width="3.8" stroke-linecap="round"/>
<line x1="1071.96" y1="903.41" x2="1084.16" y2="903.41" stroke="#ff0f87" stroke-width="3.8" stroke-linecap="round"/>
<rect x="1069.81" y="864.54" width="16.5" height="16.5"/>
<line x1="1169.15" y1="1109.61" x2="1169.15" y2="1117.36" stroke="#ff8a12" stroke-width="3.8" stroke-linecap="butt"/>
<line x1="1163.05" y1="1109.61" x2="1175.25" y2="1109.61" stroke="#ff8a12" stroke-width="3.8" stroke-linecap="round"/>
<line x1="1163.05" y1="1117.36" x2="1175.25" y2="1117.36" stroke="#ff8a12" stroke-width="3.8" stroke-linecap="round"/>
<polygon points="1169.15,1104.79 1177.65,1119.79 1160.65,1119.79"/>
<line x1="897.07" y1="871.35" x2="984.25" y2="871.35" stroke="#000" stroke-width="3.9" stroke-linecap="round"/>
<text x="937.75" y="866.7" font-size="33.5" text-anchor="middle" font-family="Liberation Sans, Arial, sans-serif" font-weight="bold">****</text>
<line x1="897.07" y1="818.64" x2="1076.11" y2="818.64" stroke="#000" stroke-width="3.9" stroke-linecap="round"/>
<text x="985.43" y="813.98" font-size="33.5" text-anchor="middle" font-family="Liberation Sans, Arial, sans-serif" font-weight="bold">*</text>
<line x1="988.93" y1="776" x2="1167.2" y2="776" stroke="#000" stroke-width="3.9" stroke-linecap="round"/>
<text x="1075.35" y="770.96" font-size="33.5" text-anchor="middle" font-family="Liberation Sans, Arial, sans-serif" font-weight="bold">****</text>
<line x1="1081.17" y1="832.21" x2="1167.2" y2="832.21" stroke="#000" stroke-width="3.9" stroke-linecap="round"/>
<text x="1122.64" y="827.94" font-size="33.5" text-anchor="middle" font-family="Liberation Sans, Arial, sans-serif" font-weight="bold">*</text>
<g transform="translate(1396.42 721.24) scale(0.8 1)"><text x="0" y="0" font-size="78" text-anchor="start" font-family="Liberation Sans, Arial, sans-serif">F</text></g>
<text x="1730.48" y="719.3" font-size="25.5" text-anchor="middle" font-family="Liberation Sans, Arial, sans-serif" font-weight="bold">Atp6v0d2</text>
<line x1="1533.58" y1="748.41" x2="1533.58" y2="1149.11" stroke="#000" stroke-width="3.8" stroke-linecap="butt"/>
<line x1="1531.68" y1="1147.21" x2="1930.58" y2="1147.21" stroke="#000" stroke-width="3.8" stroke-linecap="butt"/>
<line x1="1516.08" y1="750.31" x2="1533.58" y2="750.31" stroke="#000" stroke-width="3.8" stroke-linecap="butt"/>
<g transform="translate(1512.08 760.11) scale(0.965 1)"><text x="0" y="0" font-size="27.5" text-anchor="end" font-family="Liberation Sans, Arial, sans-serif" font-weight="bold">1.5</text></g>
<line x1="1516.08" y1="882.61" x2="1533.58" y2="882.61" stroke="#000" stroke-width="3.8" stroke-linecap="butt"/>
<g transform="translate(1512.08 892.41) scale(0.965 1)"><text x="0" y="0" font-size="27.5" text-anchor="end" font-family="Liberation Sans, Arial, sans-serif" font-weight="bold">1.0</text></g>
<line x1="1516.08" y1="1014.91" x2="1533.58" y2="1014.91" stroke="#000" stroke-width="3.8" stroke-linecap="butt"/>
<g transform="translate(1512.08 1024.71) scale(0.965 1)"><text x="0" y="0" font-size="27.5" text-anchor="end" font-family="Liberation Sans, Arial, sans-serif" font-weight="bold">0.5</text></g>
<line x1="1516.08" y1="1147.21" x2="1533.58" y2="1147.21" stroke="#000" stroke-width="3.8" stroke-linecap="butt"/>
<g transform="translate(1512.08 1157.01) scale(0.965 1)"><text x="0" y="0" font-size="27.5" text-anchor="end" font-family="Liberation Sans, Arial, sans-serif" font-weight="bold">0.0</text></g>
<line x1="1592.88" y1="1147.21" x2="1592.88" y2="1164.71" stroke="#000" stroke-width="3.8" stroke-linecap="butt"/>
<line x1="1685.13" y1="1147.21" x2="1685.13" y2="1164.71" stroke="#000" stroke-width="3.8" stroke-linecap="butt"/>
<line x1="1776.99" y1="1147.21" x2="1776.99" y2="1164.71" stroke="#000" stroke-width="3.8" stroke-linecap="butt"/>
<line x1="1868.08" y1="1147.21" x2="1868.08" y2="1164.71" stroke="#000" stroke-width="3.8" stroke-linecap="butt"/>
<g transform="translate(1458.58 949.76) rotate(-90) scale(0.967 1)"><text x="0" y="0" font-size="27.5" text-anchor="middle" font-family="Liberation Sans, Arial, sans-serif" font-weight="bold">Relative mRNA Expression</text></g>
<text x="1601.38" y="1189.21" font-size="27.5" text-anchor="end" font-family="Liberation Sans, Arial, sans-serif" font-weight="bold" transform="rotate(-45 1601.38 1189.21)">Blank</text>
<text x="1693.63" y="1189.21" font-size="27.5" text-anchor="end" font-family="Liberation Sans, Arial, sans-serif" font-weight="bold" transform="rotate(-45 1693.63 1189.21)">Blank</text>
<text x="1785.49" y="1189.21" font-size="27.5" text-anchor="end" font-family="Liberation Sans, Arial, sans-serif" font-weight="bold" transform="rotate(-45 1785.49 1189.21)">LV-NC</text>
<text x="1876.58" y="1189.21" font-size="27.5" text-anchor="end" font-family="Liberation Sans, Arial, sans-serif" font-weight="bold" transform="rotate(-45 1876.58 1189.21)">LV-Dusp1</text>
<g transform="translate(1471.08 1305.71) scale(0.94 1)"><text x="0" y="0" font-size="27.5" font-family="Liberation Sans, Arial, sans-serif" font-weight="bold">RANKL</text></g>
<text x="1592.08" y="1304.71" font-size="27.5" text-anchor="middle" font-family="Liberation Sans, Arial, sans-serif" font-weight="bold">-</text>
<text x="1687.13" y="1304.71" font-size="27.5" text-anchor="middle" font-family="Liberation Sans, Arial, sans-serif" font-weight="bold">+</text>
<text x="1778.99" y="1304.71" font-size="27.5" text-anchor="middle" font-family="Liberation Sans, Arial, sans-serif" font-weight="bold">+</text>
<text x="1870.08" y="1304.71" font-size="27.5" text-anchor="middle" font-family="Liberation Sans, Arial, sans-serif" font-weight="bold">+</text>
<polygon points="1593.66,1139.96 1600.66,1147.21 1593.66,1154.46 1586.66,1147.21"/>
<line x1="1685.13" y1="860.39" x2="1685.13" y2="906.12" stroke="#780a9e" stroke-width="3.8" stroke-linecap="butt"/>
<line x1="1679.03" y1="860.39" x2="1691.23" y2="860.39" stroke="#780a9e" stroke-width="3.8" stroke-linecap="round"/>
<line x1="1679.03" y1="906.12" x2="1691.23" y2="906.12" stroke="#780a9e" stroke-width="3.8" stroke-linecap="round"/>
<circle cx="1685.13" cy="883.64" r="8.2"/>
<line x1="1776.99" y1="866.2" x2="1776.99" y2="934.42" stroke="#ff0f87" stroke-width="3.8" stroke-linecap="butt"/>
<line x1="1770.89" y1="866.2" x2="1783.09" y2="866.2" stroke="#ff0f87" stroke-width="3.8" stroke-linecap="round"/>
<line x1="1770.89" y1="934.42" x2="1783.09" y2="934.42" stroke="#ff0f87" stroke-width="3.8" stroke-linecap="round"/>
<rect x="1768.74" y="892.45" width="16.5" height="16.5"/>
<line x1="1868.08" y1="1101.86" x2="1868.08" y2="1111.55" stroke="#ff8a12" stroke-width="3.8" stroke-linecap="butt"/>
<line x1="1861.98" y1="1101.86" x2="1874.18" y2="1101.86" stroke="#ff8a12" stroke-width="3.8" stroke-linecap="round"/>
<line x1="1861.98" y1="1111.55" x2="1874.18" y2="1111.55" stroke="#ff8a12" stroke-width="3.8" stroke-linecap="round"/>
<polygon points="1868.08,1098.2 1876.58,1113.2 1859.58,1113.2"/>
<line x1="1596.77" y1="848.87" x2="1683.18" y2="848.87" stroke="#000" stroke-width="3.9" stroke-linecap="round"/>
<text x="1637.46" y="843.83" font-size="33.5" text-anchor="middle" font-family="Liberation Sans, Arial, sans-serif" font-weight="bold">**</text>
<line x1="1596.77" y1="776" x2="1775.04" y2="776" stroke="#000" stroke-width="3.9" stroke-linecap="round"/>
<text x="1683.97" y="770.96" font-size="33.5" text-anchor="middle" font-family="Liberation Sans, Arial, sans-serif" font-weight="bold">*</text>
<line x1="1688.63" y1="815.54" x2="1866.13" y2="815.54" stroke="#000" stroke-width="3.9" stroke-linecap="round"/>
<text x="1776.22" y="810.88" font-size="33.5" text-anchor="middle" font-family="Liberation Sans, Arial, sans-serif" font-weight="bold">*</text>
<line x1="1780.11" y1="853.52" x2="1866.13" y2="853.52" stroke="#000" stroke-width="3.9" stroke-linecap="round"/>
<text x="1821.57" y="849.26" font-size="33.5" text-anchor="middle" font-family="Liberation Sans, Arial, sans-serif" font-weight="bold">*</text>
<defs><filter id="b3" x="-30%" y="-80%" width="160%" height="260%"><feGaussianBlur stdDeviation="4"/></filter><filter id="b5" x="-30%" y="-80%" width="160%" height="260%"><feGaussianBlur stdDeviation="7"/></filter><filter id="b2" x="-30%" y="-80%" width="160%" height="260%"><feGaussianBlur stdDeviation="2.2"/></filter></defs>
<defs>
<linearGradient id="bg00" x1="0" y1="0" x2="0" y2="1"><stop offset="0" stop-color="#d6d6d6"/><stop offset="1" stop-color="#cdcdcd"/></linearGradient>
<linearGradient id="bg01" x1="0" y1="0" x2="0" y2="1"><stop offset="0" stop-color="#dadada"/><stop offset="1" stop-color="#cfcfcf"/></linearGradient>
<linearGradient id="bg02" x1="0" y1="0" x2="0" y2="1"><stop offset="0" stop-color="#cbcbcb"/><stop offset="1" stop-color="#c6c6c6"/></linearGradient>
<linearGradient id="bg03" x1="0" y1="0" x2="0" y2="1"><stop offset="0" stop-color="#cfcfcf"/><stop offset="1" stop-color="#d3d3d3"/></linearGradient>
<linearGradient id="bg10" x1="0" y1="0" x2="0" y2="1"><stop offset="0" stop-color="#d8d8d8"/><stop offset="1" stop-color="#cecece"/></linearGradient>
<linearGradient id="bg11" x1="0" y1="0" x2="0" y2="1"><stop offset="0" stop-color="#dadada"/><stop offset="1" stop-color="#d0d0d0"/></linearGradient>
<linearGradient id="bg12" x1="0" y1="0" x2="0" y2="1"><stop offset="0" stop-color="#cccccc"/><stop offset="1" stop-color="#c8c8c8"/></linearGradient>
<linearGradient id="bg13" x1="0" y1="0" x2="0" y2="1"><stop offset="0" stop-color="#cecece"/><stop offset="1" stop-color="#d2d2d2"/></linearGradient>
<linearGradient id="bg20" x1="0" y1="0" x2="0" y2="1"><stop offset="0" stop-color="#d0d0d0"/><stop offset="1" stop-color="#c8c8c8"/></linearGradient>
<linearGradient id="bg21" x1="0" y1="0" x2="0" y2="1"><stop offset="0" stop-color="#d9d9d9"/><stop offset="1" stop-color="#d2d2d2"/></linearGradient>
<linearGradient id="bg22" x1="0" y1="0" x2="0" y2="1"><stop offset="0" stop-color="#cecece"/><stop offset="1" stop-color="#cacaca"/></linearGradient>
<linearGradient id="bg23" x1="0" y1="0" x2="0" y2="1"><stop offset="0" stop-color="#cbcbcb"/><stop offset="1" stop-color="#d0d0d0"/></linearGradient>
</defs>
<g transform="translate(9 1388.5) scale(0.84 1)"><text x="0" y="0" font-size="74" text-anchor="start" font-family="Liberation Sans, Arial, sans-serif">G</text></g>
<line x1="156" y1="1402" x2="722.5" y2="1402" stroke="#000" stroke-width="3.8" stroke-linecap="butt"/>
<g transform="translate(438.25 1388.7) scale(0.9 1)"><text x="0" y="0" font-size="41" text-anchor="middle" font-family="Liberation Sans, Arial, sans-serif" stroke="#000" stroke-width="0.9" stroke-linejoin="round">Blank</text></g>
<line x1="741" y1="1402" x2="1305.5" y2="1402" stroke="#000" stroke-width="3.8" stroke-linecap="butt"/>
<g transform="translate(1022.25 1388.7) scale(0.9 1)"><text x="0" y="0" font-size="41" text-anchor="middle" font-family="Liberation Sans, Arial, sans-serif" stroke="#000" stroke-width="0.9" stroke-linejoin="round">LV-NC</text></g>
<line x1="1327" y1="1402" x2="1891.3" y2="1402" stroke="#000" stroke-width="3.8" stroke-linecap="butt"/>
<g transform="translate(1608.15 1388.7) scale(0.9 1)"><text x="0" y="0" font-size="41" text-anchor="middle" font-family="Liberation Sans, Arial, sans-serif" stroke="#000" stroke-width="0.9" stroke-linejoin="round">LV-Dusp1</text></g>
<g transform="translate(239.4 1438.5) scale(0.9 1)"><text x="0" y="0" font-size="40.5" text-anchor="middle" font-family="Liberation Sans, Arial, sans-serif" stroke="#000" stroke-width="0.9" stroke-linejoin="round">0</text></g>
<g transform="translate(375.8 1438.5) scale(0.9 1)"><text x="0" y="0" font-size="40.5" text-anchor="middle" font-family="Liberation Sans, Arial, sans-serif" stroke="#000" stroke-width="0.9" stroke-linejoin="round">1</text></g>
<g transform="translate(511.7 1438.5) scale(0.9 1)"><text x="0" y="0" font-size="40.5" text-anchor="middle" font-family="Liberation Sans, Arial, sans-serif" stroke="#000" stroke-width="0.9" stroke-linejoin="round">3</text></g>
<g transform="translate(648.8 1438.5) scale(0.9 1)"><text x="0" y="0" font-size="40.5" text-anchor="middle" font-family="Liberation Sans, Arial, sans-serif" stroke="#000" stroke-width="0.9" stroke-linejoin="round">5</text></g>
<g transform="translate(816.6 1438.5) scale(0.9 1)"><text x="0" y="0" font-size="40.5" text-anchor="middle" font-family="Liberation Sans, Arial, sans-serif" stroke="#000" stroke-width="0.9" stroke-linejoin="round">0</text></g>
<g transform="translate(953.6 1438.5) scale(0.9 1)"><text x="0" y="0" font-size="40.5" text-anchor="middle" font-family="Liberation Sans, Arial, sans-serif" stroke="#000" stroke-width="0.9" stroke-linejoin="round">1</text></g>
<g transform="translate(1092 1438.5) scale(0.9 1)"><text x="0" y="0" font-size="40.5" text-anchor="middle" font-family="Liberation Sans, Arial, sans-serif" stroke="#000" stroke-width="0.9" stroke-linejoin="round">3</text></g>
<g transform="translate(1229 1438.5) scale(0.9 1)"><text x="0" y="0" font-size="40.5" text-anchor="middle" font-family="Liberation Sans, Arial, sans-serif" stroke="#000" stroke-width="0.9" stroke-linejoin="round">5</text></g>
<g transform="translate(1398 1438.5) scale(0.9 1)"><text x="0" y="0" font-size="40.5" text-anchor="middle" font-family="Liberation Sans, Arial, sans-serif" stroke="#000" stroke-width="0.9" stroke-linejoin="round">0</text></g>
<g transform="translate(1536 1438.5) scale(0.9 1)"><text x="0" y="0" font-size="40.5" text-anchor="middle" font-family="Liberation Sans, Arial, sans-serif" stroke="#000" stroke-width="0.9" stroke-linejoin="round">1</text></g>
<g transform="translate(1674 1438.5) scale(0.9 1)"><text x="0" y="0" font-size="40.5" text-anchor="middle" font-family="Liberation Sans, Arial, sans-serif" stroke="#000" stroke-width="0.9" stroke-linejoin="round">3</text></g>
<g transform="translate(1811 1438.5) scale(0.9 1)"><text x="0" y="0" font-size="40.5" text-anchor="middle" font-family="Liberation Sans, Arial, sans-serif" stroke="#000" stroke-width="0.9" stroke-linejoin="round">5</text></g>
<g transform="translate(1899.5 1435) scale(0.91 1)"><text x="0" y="0" font-size="40.5" text-anchor="start" font-family="Liberation Sans, Arial, sans-serif" stroke="#000" stroke-width="0.9" stroke-linejoin="round">days</text></g>
<g transform="translate(145.5 1505.6) scale(0.915 1)"><text x="0" y="0" font-size="41.3" text-anchor="end" font-family="Liberation Sans, Arial, sans-serif" stroke="#000" stroke-width="0.9" stroke-linejoin="round">NFATc1</text></g>
<g transform="translate(141.5 1608.3) scale(0.915 1)"><text x="0" y="0" font-size="41.3" text-anchor="end" font-family="Liberation Sans, Arial, sans-serif" stroke="#000" stroke-width="0.9" stroke-linejoin="round">c-Fos</text></g>
<g transform="translate(140.8 1701.3) scale(0.915 1)"><text x="0" y="0" font-size="41.3" text-anchor="end" font-family="Liberation Sans, Arial, sans-serif" stroke="#000" stroke-width="0.9" stroke-linejoin="round">CTSK</text></g>
<g transform="translate(143 1800) scale(0.915 1)"><text x="0" y="0" font-size="41.3" text-anchor="end" font-family="Liberation Sans, Arial, sans-serif" stroke="#000" stroke-width="0.9" stroke-linejoin="round">β-actin</text></g>
<g transform="translate(1897 1505) scale(0.885 1)"><text x="0" y="0" font-size="41.3" text-anchor="start" font-family="Liberation Sans, Arial, sans-serif" stroke="#000" stroke-width="0.9" stroke-linejoin="round">100KD</text></g>
<g transform="translate(1899.5 1603) scale(0.885 1)"><text x="0" y="0" font-size="41.3" text-anchor="start" font-family="Liberation Sans, Arial, sans-serif" stroke="#000" stroke-width="0.9" stroke-linejoin="round">55KD</text></g>
<g transform="translate(1898.5 1700.7) scale(0.885 1)"><text x="0" y="0" font-size="41.3" text-anchor="start" font-family="Liberation Sans, Arial, sans-serif" stroke="#000" stroke-width="0.9" stroke-linejoin="round">37KD</text></g>
<g transform="translate(1897.5 1802) scale(0.885 1)"><text x="0" y="0" font-size="41.3" text-anchor="start" font-family="Liberation Sans, Arial, sans-serif" stroke="#000" stroke-width="0.9" stroke-linejoin="round">45KD</text></g>
<clipPath id="cp00"><rect x="150" y="1447.5" width="574.5" height="86"/></clipPath>
<rect x="150" y="1447.5" width="574.5" height="86" fill="url(#bg00)"/>
<g clip-path="url(#cp00)">
<rect x="180.37" y="1485.35" width="95.35" height="10.63" rx="5.31" fill="#000" opacity="0.3" filter="url(#b3)" transform="rotate(3 228.04 1490.66)"/>
<ellipse cx="198.14" cy="1487.51" rx="14.95" ry="3.32" fill="#000" opacity="0.45" filter="url(#b3)" transform="rotate(-5 198.14 1487.51)"/>
<ellipse cx="249.63" cy="1492.16" rx="16.61" ry="2.99" fill="#000" opacity="0.2" filter="url(#b3)"/>
<rect x="316.58" y="1485.35" width="101.99" height="13.95" rx="6.98" fill="#000" opacity="0.45" filter="url(#b3)"/>
<ellipse cx="339.34" cy="1490.5" rx="18.27" ry="3.99" fill="#000" opacity="0.5" filter="url(#b3)" transform="rotate(-8 339.34 1490.5)"/>
<ellipse cx="399.14" cy="1491.5" rx="14.95" ry="3.32" fill="#000" opacity="0.4" filter="url(#b3)" transform="rotate(10 399.14 1491.5)"/>
<rect x="451.95" y="1477.87" width="114.63" height="33.24" rx="16.62" fill="#000" opacity="0.3" filter="url(#b5)"/>
<rect x="455.45" y="1481.37" width="107.63" height="26.24" rx="13.12" fill="#000" opacity="1.0" filter="url(#b3)"/>
<ellipse cx="470.56" cy="1494.82" rx="14.95" ry="14.62" fill="#000" opacity="1.0" filter="url(#b3)"/>
<ellipse cx="547.97" cy="1494.82" rx="14.95" ry="14.62" fill="#000" opacity="1.0" filter="url(#b3)"/>
<ellipse cx="508.77" cy="1518.07" rx="49.83" ry="7.31" fill="#000" opacity="0.1" filter="url(#b5)"/>
<rect x="595.47" y="1483.51" width="113.97" height="19.29" rx="9.64" fill="#000" opacity="0.17" filter="url(#b5)"/>
<rect x="598.97" y="1487.01" width="106.97" height="12.29" rx="6.14" fill="#000" opacity="0.55" filter="url(#b3)"/>
<ellipse cx="613.42" cy="1493.16" rx="13.29" ry="4.65" fill="#000" opacity="0.7" filter="url(#b3)" transform="rotate(-12 613.42 1493.16)"/>
<ellipse cx="686.51" cy="1490.5" rx="16.61" ry="5.32" fill="#000" opacity="0.85" filter="url(#b3)" transform="rotate(8 686.51 1490.5)"/>
</g>
<rect x="150" y="1447.5" width="574.5" height="86" fill="none" stroke="#0a0a0a" stroke-width="3"/>
<clipPath id="cp01"><rect x="150" y="1547.5" width="574.5" height="84"/></clipPath>
<rect x="150" y="1547.5" width="574.5" height="84" fill="url(#bg01)"/>
<g clip-path="url(#cp01)">
<rect x="163.76" y="1594.99" width="115.28" height="13.95" rx="6.98" fill="#000" opacity="0.28" filter="url(#b3)"/>
<ellipse cx="262.92" cy="1596.81" rx="13.29" ry="4.65" fill="#000" opacity="0.3" filter="url(#b3)"/>
<ellipse cx="193.16" cy="1602.79" rx="19.93" ry="3.99" fill="#000" opacity="0.15" filter="url(#b3)"/>
<rect x="306.44" y="1584.84" width="115.63" height="26.93" rx="13.47" fill="#000" opacity="0.17" filter="url(#b5)"/>
<rect x="309.94" y="1588.34" width="108.63" height="19.93" rx="9.97" fill="#000" opacity="0.55" filter="url(#b3)"/>
<ellipse cx="336.01" cy="1596.15" rx="18.27" ry="5.98" fill="#000" opacity="0.35" filter="url(#b3)"/>
<ellipse cx="402.46" cy="1596.81" rx="13.29" ry="5.98" fill="#000" opacity="0.35" filter="url(#b3)"/>
<rect x="443.49" y="1587.34" width="107.31" height="30.9" rx="15.45" fill="#000" opacity="0.28" filter="url(#b5)"/>
<rect x="446.99" y="1590.84" width="100.31" height="23.9" rx="11.95" fill="#000" opacity="0.95" filter="url(#b3)"/>
<ellipse cx="528.7" cy="1602.79" rx="19.93" ry="12.62" fill="#000" opacity="0.8" filter="url(#b3)"/>
<ellipse cx="472.23" cy="1606.11" rx="23.26" ry="9.97" fill="#000" opacity="0.6" filter="url(#b3)"/>
<rect x="572.22" y="1591.49" width="138.89" height="23.61" rx="11.8" fill="#000" opacity="0.15" filter="url(#b5)"/>
<rect x="575.72" y="1594.99" width="131.89" height="16.61" rx="8.3" fill="#000" opacity="0.5" filter="url(#b3)"/>
<ellipse cx="601.79" cy="1601.13" rx="18.27" ry="4.65" fill="#000" opacity="0.3" filter="url(#b3)"/>
<ellipse cx="681.53" cy="1602.79" rx="19.93" ry="4.65" fill="#000" opacity="0.35" filter="url(#b3)"/>
</g>
<rect x="150" y="1547.5" width="574.5" height="84" fill="none" stroke="#0a0a0a" stroke-width="3"/>
<clipPath id="cp02"><rect x="150" y="1646" width="574.5" height="84.5"/></clipPath>
<rect x="150" y="1646" width="574.5" height="84.5" fill="url(#bg02)"/>
<g clip-path="url(#cp02)">
<rect x="462.58" y="1665.24" width="108.99" height="27.59" rx="13.8" fill="#000" opacity="0.27" filter="url(#b5)"/>
<rect x="466.08" y="1668.74" width="101.99" height="20.59" rx="10.3" fill="#000" opacity="0.9" filter="url(#b3)"/>
<ellipse cx="482.19" cy="1678.21" rx="14.95" ry="9.97" fill="#000" opacity="0.9" filter="url(#b3)"/>
<ellipse cx="551.96" cy="1679.87" rx="14.95" ry="9.3" fill="#000" opacity="0.9" filter="url(#b3)"/>
<rect x="590.49" y="1666.9" width="84.07" height="34.24" rx="17.12" fill="#000" opacity="0.3" filter="url(#b5)" transform="rotate(8 632.52 1684.02)"/>
<rect x="593.99" y="1670.4" width="77.07" height="27.24" rx="13.62" fill="#000" opacity="1.0" filter="url(#b3)" transform="rotate(8 632.52 1684.02)"/>
<ellipse cx="684.85" cy="1693.16" rx="19.93" ry="14.95" fill="#000" opacity="1.0" filter="url(#b3)"/>
<ellipse cx="684.85" cy="1711.43" rx="14.95" ry="11.63" fill="#000" opacity="0.75" filter="url(#b5)"/>
<ellipse cx="611.76" cy="1679.87" rx="18.27" ry="9.97" fill="#000" opacity="0.9" filter="url(#b3)"/>
</g>
<rect x="150" y="1646" width="574.5" height="84.5" fill="none" stroke="#0a0a0a" stroke-width="3"/>
<clipPath id="cp03"><rect x="150" y="1744.5" width="574.5" height="84.5"/></clipPath>
<rect x="150" y="1744.5" width="574.5" height="84.5" fill="url(#bg03)"/>
<g clip-path="url(#cp03)">
<rect x="172.88" y="1781.19" width="121.28" height="28.92" rx="14.46" fill="#000" opacity="0.3" filter="url(#b5)" transform="rotate(-2 233.52 1795.65)"/>
<rect x="176.38" y="1784.69" width="114.28" height="21.92" rx="10.96" fill="#000" opacity="1.0" filter="url(#b3)" transform="rotate(-2 233.52 1795.65)"/>
<ellipse cx="189.83" cy="1802.79" rx="13.95" ry="5.32" fill="#000" opacity="1.0" filter="url(#b3)"/>
<rect x="312.42" y="1783.18" width="112.98" height="24.6" rx="12.3" fill="#000" opacity="0.3" filter="url(#b5)"/>
<rect x="315.92" y="1786.68" width="105.98" height="17.6" rx="8.8" fill="#000" opacity="1.0" filter="url(#b3)"/>
<ellipse cx="330.03" cy="1798.14" rx="12.62" ry="7.31" fill="#000" opacity="0.95" filter="url(#b3)"/>
<rect x="448.63" y="1781.85" width="111.32" height="25.93" rx="12.97" fill="#000" opacity="0.3" filter="url(#b5)"/>
<rect x="452.13" y="1785.35" width="104.32" height="18.93" rx="9.47" fill="#000" opacity="1.0" filter="url(#b3)"/>
<rect x="586.34" y="1779.03" width="118.94" height="22.59" rx="11.3" fill="#000" opacity="0.28" filter="url(#b5)" transform="rotate(-7 645.81 1790.33)"/>
<rect x="589.84" y="1782.53" width="111.94" height="15.59" rx="7.8" fill="#000" opacity="0.95" filter="url(#b3)" transform="rotate(-7 645.81 1790.33)"/>
<ellipse cx="684.85" cy="1782.19" rx="18.27" ry="7.31" fill="#000" opacity="0.95" filter="url(#b3)" transform="rotate(-10 684.85 1782.19)"/>
<ellipse cx="605.12" cy="1796.15" rx="16.61" ry="5.32" fill="#000" opacity="0.8" filter="url(#b3)"/>
</g>
<rect x="150" y="1744.5" width="574.5" height="84.5" fill="none" stroke="#0a0a0a" stroke-width="3"/>
<clipPath id="cp10"><rect x="735" y="1447.5" width="572.5" height="86"/></clipPath>
<rect x="735" y="1447.5" width="572.5" height="86" fill="url(#bg10)"/>
<g clip-path="url(#cp10)">
<rect x="757.04" y="1486.35" width="98.67" height="11.29" rx="5.65" fill="#000" opacity="0.22" filter="url(#b3)"/>
<ellipse cx="773.16" cy="1490.5" rx="13.29" ry="2.99" fill="#000" opacity="0.3" filter="url(#b3)" transform="rotate(-8 773.16 1490.5)"/>
<ellipse cx="832.96" cy="1489.83" rx="14.95" ry="2.66" fill="#000" opacity="0.2" filter="url(#b3)"/>
<rect x="893.08" y="1478.53" width="108.99" height="27.59" rx="13.8" fill="#000" opacity="0.18" filter="url(#b5)"/>
<rect x="896.58" y="1482.03" width="101.99" height="20.59" rx="10.3" fill="#000" opacity="0.6" filter="url(#b3)"/>
<ellipse cx="919.34" cy="1488.17" rx="19.93" ry="5.98" fill="#000" opacity="0.9" filter="url(#b3)" transform="rotate(-6 919.34 1488.17)"/>
<ellipse cx="982.46" cy="1490.5" rx="14.95" ry="5.32" fill="#000" opacity="0.75" filter="url(#b3)" transform="rotate(10 982.46 1490.5)"/>
<rect x="1033.61" y="1477.87" width="114.63" height="33.24" rx="16.62" fill="#000" opacity="0.3" filter="url(#b5)"/>
<rect x="1037.11" y="1481.37" width="107.63" height="26.24" rx="13.12" fill="#000" opacity="1.0" filter="url(#b3)"/>
<ellipse cx="1052.23" cy="1494.82" rx="14.95" ry="14.62" fill="#000" opacity="1.0" filter="url(#b3)"/>
<ellipse cx="1129.63" cy="1494.82" rx="14.95" ry="14.62" fill="#000" opacity="1.0" filter="url(#b3)"/>
<ellipse cx="1090.43" cy="1518.07" rx="49.83" ry="7.31" fill="#000" opacity="0.1" filter="url(#b5)"/>
<rect x="1175.47" y="1480.19" width="113.97" height="23.28" rx="11.64" fill="#000" opacity="0.22" filter="url(#b5)"/>
<rect x="1178.97" y="1483.69" width="106.97" height="16.28" rx="8.14" fill="#000" opacity="0.75" filter="url(#b3)"/>
<ellipse cx="1195.08" cy="1492.49" rx="14.95" ry="5.98" fill="#000" opacity="0.8" filter="url(#b3)" transform="rotate(-8 1195.08 1492.49)"/>
<ellipse cx="1264.85" cy="1487.18" rx="18.27" ry="5.98" fill="#000" opacity="0.95" filter="url(#b3)" transform="rotate(6 1264.85 1487.18)"/>
</g>
<rect x="735" y="1447.5" width="572.5" height="86" fill="none" stroke="#0a0a0a" stroke-width="3"/>
<clipPath id="cp11"><rect x="735" y="1547.5" width="572.5" height="84"/></clipPath>
<rect x="735" y="1547.5" width="572.5" height="84" fill="url(#bg11)"/>
<g clip-path="url(#cp11)">
<rect x="753.72" y="1589.34" width="105.31" height="14.61" rx="7.31" fill="#000" opacity="0.25" filter="url(#b3)"/>
<ellipse cx="779.8" cy="1595.48" rx="19.93" ry="3.99" fill="#000" opacity="0.12" filter="url(#b3)"/>
<ellipse cx="836.28" cy="1594.49" rx="16.61" ry="3.99" fill="#000" opacity="0.12" filter="url(#b3)"/>
<rect x="894.74" y="1583.84" width="108.99" height="26.93" rx="13.47" fill="#000" opacity="0.17" filter="url(#b5)"/>
<rect x="898.24" y="1587.34" width="101.99" height="19.93" rx="9.97" fill="#000" opacity="0.55" filter="url(#b3)"/>
<ellipse cx="922.66" cy="1595.48" rx="18.27" ry="5.32" fill="#000" opacity="0.3" filter="url(#b3)"/>
<ellipse cx="982.46" cy="1596.15" rx="14.95" ry="5.32" fill="#000" opacity="0.3" filter="url(#b3)"/>
<rect x="1030.13" y="1582.36" width="110.63" height="31.56" rx="15.78" fill="#000" opacity="0.26" filter="url(#b5)"/>
<rect x="1033.63" y="1585.86" width="103.63" height="24.56" rx="12.28" fill="#000" opacity="0.85" filter="url(#b3)"/>
<ellipse cx="1115.35" cy="1599.47" rx="19.93" ry="10.63" fill="#000" opacity="0.6" filter="url(#b3)"/>
<ellipse cx="1055.55" cy="1602.79" rx="21.59" ry="8.64" fill="#000" opacity="0.5" filter="url(#b3)"/>
<rect x="1168.83" y="1583.18" width="122.28" height="27.59" rx="13.8" fill="#000" opacity="0.17" filter="url(#b5)" transform="rotate(3 1229.97 1596.98)"/>
<rect x="1172.33" y="1586.68" width="115.28" height="20.59" rx="10.3" fill="#000" opacity="0.55" filter="url(#b3)" transform="rotate(3 1229.97 1596.98)"/>
<ellipse cx="1191.76" cy="1594.49" rx="16.61" ry="5.32" fill="#000" opacity="0.35" filter="url(#b3)"/>
<ellipse cx="1258.21" cy="1599.47" rx="19.93" ry="5.32" fill="#000" opacity="0.35" filter="url(#b3)"/>
</g>
<rect x="735" y="1547.5" width="572.5" height="84" fill="none" stroke="#0a0a0a" stroke-width="3"/>
<clipPath id="cp12"><rect x="735" y="1646" width="572.5" height="84.5"/></clipPath>
<rect x="735" y="1646" width="572.5" height="84.5" fill="url(#bg12)"/>
<g clip-path="url(#cp12)">
<ellipse cx="1052.23" cy="1676.54" rx="18.27" ry="9.3" fill="#000" opacity="0.5" filter="url(#b3)"/>
<ellipse cx="1055.55" cy="1699.8" rx="13.29" ry="19.93" fill="#000" opacity="0.18" filter="url(#b5)"/>
<rect x="1066.01" y="1675.38" width="45.51" height="13.95" rx="6.98" fill="#000" opacity="0.35" filter="url(#b3)" transform="rotate(8 1088.77 1682.36)"/>
<ellipse cx="1121.99" cy="1679.87" rx="16.61" ry="10.63" fill="#000" opacity="1.0" filter="url(#b3)"/>
<rect x="1166.34" y="1667.74" width="123.92" height="29.24" rx="14.62" fill="#000" opacity="0.28" filter="url(#b5)"/>
<rect x="1169.84" y="1671.24" width="116.92" height="22.24" rx="11.12" fill="#000" opacity="0.95" filter="url(#b3)"/>
<ellipse cx="1188.44" cy="1683.19" rx="19.93" ry="13.29" fill="#000" opacity="0.9" filter="url(#b3)"/>
<ellipse cx="1264.85" cy="1678.21" rx="19.93" ry="11.63" fill="#000" opacity="0.9" filter="url(#b3)"/>
</g>
<rect x="735" y="1646" width="572.5" height="84.5" fill="none" stroke="#0a0a0a" stroke-width="3"/>
<clipPath id="cp13"><rect x="735" y="1744.5" width="572.5" height="84.5"/></clipPath>
<rect x="735" y="1744.5" width="572.5" height="84.5" fill="url(#bg13)"/>
<g clip-path="url(#cp13)">
<rect x="741.92" y="1779.86" width="123.94" height="28.26" rx="14.13" fill="#000" opacity="0.3" filter="url(#b5)" transform="rotate(-3 803.89 1793.99)"/>
<rect x="745.42" y="1783.36" width="116.94" height="21.26" rx="10.63" fill="#000" opacity="1.0" filter="url(#b3)" transform="rotate(-3 803.89 1793.99)"/>
<ellipse cx="758.21" cy="1801.13" rx="13.29" ry="5.32" fill="#000" opacity="1.0" filter="url(#b3)"/>
<rect x="889.76" y="1781.52" width="119.62" height="26.6" rx="13.3" fill="#000" opacity="0.3" filter="url(#b5)"/>
<rect x="893.26" y="1785.02" width="112.62" height="19.6" rx="9.8" fill="#000" opacity="1.0" filter="url(#b3)"/>
<rect x="1029.29" y="1781.52" width="119.62" height="26.6" rx="13.3" fill="#000" opacity="0.3" filter="url(#b5)"/>
<rect x="1032.79" y="1785.02" width="112.62" height="19.6" rx="9.8" fill="#000" opacity="1.0" filter="url(#b3)"/>
<rect x="1167.17" y="1781.52" width="124.6" height="24.94" rx="12.47" fill="#000" opacity="0.3" filter="url(#b5)"/>
<rect x="1170.67" y="1785.02" width="117.6" height="17.94" rx="8.97" fill="#000" opacity="1.0" filter="url(#b3)"/>
</g>
<rect x="735" y="1744.5" width="572.5" height="84.5" fill="none" stroke="#0a0a0a" stroke-width="3"/>
<clipPath id="cp20"><rect x="1321" y="1447.5" width="572.3" height="86"/></clipPath>
<rect x="1321" y="1447.5" width="572.3" height="86" fill="url(#bg20)"/>
<g clip-path="url(#cp20)">
<rect x="1341.72" y="1491" width="101.99" height="11.62" rx="5.81" fill="#000" opacity="0.3" filter="url(#b3)" transform="rotate(-3 1392.72 1496.81)"/>
<ellipse cx="1362.82" cy="1494.82" rx="14.95" ry="3.32" fill="#000" opacity="0.6" filter="url(#b3)" transform="rotate(-15 1362.82 1494.82)"/>
<ellipse cx="1424.28" cy="1495.48" rx="13.29" ry="2.66" fill="#000" opacity="0.35" filter="url(#b3)"/>
<rect x="1489.56" y="1487.01" width="97.01" height="12.95" rx="6.48" fill="#000" opacity="0.3" filter="url(#b3)"/>
<ellipse cx="1563.81" cy="1489.83" rx="18.27" ry="3.32" fill="#000" opacity="0.45" filter="url(#b3)" transform="rotate(8 1563.81 1489.83)"/>
<ellipse cx="1507.34" cy="1493.16" rx="14.95" ry="2.99" fill="#000" opacity="0.25" filter="url(#b3)" transform="rotate(-15 1507.34 1493.16)"/>
<rect x="1623.94" y="1479.52" width="112.31" height="26.6" rx="13.3" fill="#000" opacity="0.18" filter="url(#b5)" transform="rotate(-2 1680.09 1492.82)"/>
<rect x="1627.44" y="1483.02" width="105.31" height="19.6" rx="9.8" fill="#000" opacity="0.6" filter="url(#b3)" transform="rotate(-2 1680.09 1492.82)"/>
<ellipse cx="1660.16" cy="1489.83" rx="28.24" ry="5.32" fill="#000" opacity="0.95" filter="url(#b3)" transform="rotate(-6 1660.16 1489.83)"/>
<ellipse cx="1713.32" cy="1489.17" rx="16.61" ry="3.32" fill="#000" opacity="0.6" filter="url(#b3)" transform="rotate(6 1713.32 1489.17)"/>
<rect x="1768.63" y="1477.71" width="103.65" height="13.29" rx="6.64" fill="#000" opacity="0.18" filter="url(#b3)" transform="rotate(-4 1820.46 1484.35)"/>
<ellipse cx="1857.83" cy="1481.53" rx="11.63" ry="3.99" fill="#000" opacity="0.45" filter="url(#b3)"/>
</g>
<rect x="1321" y="1447.5" width="572.3" height="86" fill="none" stroke="#0a0a0a" stroke-width="3"/>
<clipPath id="cp21"><rect x="1321" y="1547.5" width="572.3" height="84"/></clipPath>
<rect x="1321" y="1547.5" width="572.3" height="84" fill="url(#bg21)"/>
<g clip-path="url(#cp21)">
<rect x="1338.4" y="1593.99" width="101.99" height="14.95" rx="7.47" fill="#000" opacity="0.22" filter="url(#b3)" transform="rotate(-3 1389.4 1601.46)"/>
<ellipse cx="1417.63" cy="1597.81" rx="14.95" ry="3.99" fill="#000" opacity="0.1" filter="url(#b3)"/>
<rect x="1471.29" y="1589.34" width="101.99" height="13.62" rx="6.81" fill="#000" opacity="0.2" filter="url(#b3)"/>
<ellipse cx="1485.74" cy="1594.82" rx="13.29" ry="4.32" fill="#000" opacity="0.2" filter="url(#b3)"/>
<rect x="1608.99" y="1584.84" width="115.63" height="30.92" rx="15.46" fill="#000" opacity="0.17" filter="url(#b5)"/>
<rect x="1612.49" y="1588.34" width="108.63" height="23.92" rx="11.96" fill="#000" opacity="0.55" filter="url(#b3)"/>
<ellipse cx="1705.01" cy="1599.47" rx="14.95" ry="9.3" fill="#000" opacity="0.4" filter="url(#b3)"/>
<ellipse cx="1636.9" cy="1599.47" rx="19.93" ry="5.98" fill="#000" opacity="0.2" filter="url(#b3)"/>
<rect x="1753.68" y="1589.34" width="115.28" height="14.61" rx="7.31" fill="#000" opacity="0.22" filter="url(#b3)"/>
<ellipse cx="1773.12" cy="1595.48" rx="14.95" ry="3.99" fill="#000" opacity="0.12" filter="url(#b3)"/>
</g>
<rect x="1321" y="1547.5" width="572.3" height="84" fill="none" stroke="#0a0a0a" stroke-width="3"/>
<clipPath id="cp22"><rect x="1321" y="1646" width="572.3" height="84.5"/></clipPath>
<rect x="1321" y="1646" width="572.3" height="84.5" fill="url(#bg22)"/>
<g clip-path="url(#cp22)">
<ellipse cx="1643.55" cy="1696.48" rx="11.63" ry="13.29" fill="#000" opacity="0.07" filter="url(#b5)" transform="rotate(-30 1643.55 1696.48)"/>
<ellipse cx="1723.28" cy="1693.16" rx="11.63" ry="9.97" fill="#000" opacity="0.1" filter="url(#b5)"/>
<rect x="1763.47" y="1675.21" width="123.94" height="27.59" rx="13.8" fill="#000" opacity="0.24" filter="url(#b5)"/>
<rect x="1766.97" y="1678.71" width="116.94" height="20.59" rx="10.3" fill="#000" opacity="0.8" filter="url(#b3)"/>
<ellipse cx="1789.73" cy="1691.5" rx="19.93" ry="10.63" fill="#000" opacity="0.7" filter="url(#b3)"/>
<ellipse cx="1866.14" cy="1687.18" rx="16.61" ry="8.64" fill="#000" opacity="0.75" filter="url(#b3)"/>
</g>
<rect x="1321" y="1646" width="572.3" height="84.5" fill="none" stroke="#0a0a0a" stroke-width="3"/>
<clipPath id="cp23"><rect x="1321" y="1744.5" width="572.3" height="84.5"/></clipPath>
<rect x="1321" y="1744.5" width="572.3" height="84.5" fill="url(#bg23)"/>
<g clip-path="url(#cp23)">
<rect x="1331.58" y="1785.84" width="122.28" height="25.93" rx="12.97" fill="#000" opacity="0.3" filter="url(#b5)"/>
<rect x="1335.08" y="1789.34" width="115.28" height="18.93" rx="9.47" fill="#000" opacity="1.0" filter="url(#b3)"/>
<rect x="1474.44" y="1784.84" width="122.94" height="26.93" rx="13.47" fill="#000" opacity="0.3" filter="url(#b5)"/>
<rect x="1477.94" y="1788.34" width="115.94" height="19.93" rx="9.97" fill="#000" opacity="1.0" filter="url(#b3)"/>
<rect x="1617.29" y="1784.18" width="120.62" height="27.59" rx="13.8" fill="#000" opacity="0.3" filter="url(#b5)"/>
<rect x="1620.79" y="1787.68" width="113.62" height="20.59" rx="10.3" fill="#000" opacity="1.0" filter="url(#b3)"/>
<rect x="1753.5" y="1788.16" width="123.94" height="27.59" rx="13.8" fill="#000" opacity="0.3" filter="url(#b5)" transform="rotate(5 1815.48 1801.96)"/>
<rect x="1757" y="1791.66" width="116.94" height="20.59" rx="10.3" fill="#000" opacity="1.0" filter="url(#b3)" transform="rotate(5 1815.48 1801.96)"/>
<ellipse cx="1859.5" cy="1809.44" rx="14.95" ry="5.98" fill="#000" opacity="0.95" filter="url(#b3)"/>
</g>
<rect x="1321" y="1744.5" width="572.3" height="84.5" fill="none" stroke="#0a0a0a" stroke-width="3"/>
<g transform="translate(8.58 1891.94) scale(0.8 1)"><text x="0" y="0" font-size="78" text-anchor="start" font-family="Liberation Sans, Arial, sans-serif">H</text></g>
<line x1="114.34" y1="1897.4" x2="114.34" y2="2229.5" stroke="#000" stroke-width="3.8" stroke-linecap="butt"/>
<line x1="112.44" y1="2227.6" x2="610.47" y2="2227.6" stroke="#000" stroke-width="3.8" stroke-linecap="butt"/>
<line x1="100.84" y1="1899.3" x2="114.34" y2="1899.3" stroke="#000" stroke-width="3.8" stroke-linecap="butt"/>
<text x="97.04" y="1907.3" font-size="22.3" text-anchor="end" font-family="Liberation Sans, Arial, sans-serif" font-weight="bold">2.5</text>
<line x1="100.84" y1="1964.96" x2="114.34" y2="1964.96" stroke="#000" stroke-width="3.8" stroke-linecap="butt"/>
<text x="97.04" y="1972.96" font-size="22.3" text-anchor="end" font-family="Liberation Sans, Arial, sans-serif" font-weight="bold">2.0</text>
<line x1="100.84" y1="2030.62" x2="114.34" y2="2030.62" stroke="#000" stroke-width="3.8" stroke-linecap="butt"/>
<text x="97.04" y="2038.62" font-size="22.3" text-anchor="end" font-family="Liberation Sans, Arial, sans-serif" font-weight="bold">1.5</text>
<line x1="100.84" y1="2096.28" x2="114.34" y2="2096.28" stroke="#000" stroke-width="3.8" stroke-linecap="butt"/>
<text x="97.04" y="2104.28" font-size="22.3" text-anchor="end" font-family="Liberation Sans, Arial, sans-serif" font-weight="bold">1.0</text>
<line x1="100.84" y1="2161.94" x2="114.34" y2="2161.94" stroke="#000" stroke-width="3.8" stroke-linecap="butt"/>
<text x="97.04" y="2169.94" font-size="22.3" text-anchor="end" font-family="Liberation Sans, Arial, sans-serif" font-weight="bold">0.5</text>
<line x1="100.84" y1="2227.6" x2="114.34" y2="2227.6" stroke="#000" stroke-width="3.8" stroke-linecap="butt"/>
<text x="97.04" y="2235.6" font-size="22.3" text-anchor="end" font-family="Liberation Sans, Arial, sans-serif" font-weight="bold">0.0</text>
<line x1="171.71" y1="2227.6" x2="171.71" y2="2241.6" stroke="#000" stroke-width="3.8" stroke-linecap="butt"/>
<text x="171.71" y="2265.8" font-size="22.3" text-anchor="middle" font-family="Liberation Sans, Arial, sans-serif" font-weight="bold">0</text>
<line x1="297.67" y1="2227.6" x2="297.67" y2="2241.6" stroke="#000" stroke-width="3.8" stroke-linecap="butt"/>
<text x="297.67" y="2265.8" font-size="22.3" text-anchor="middle" font-family="Liberation Sans, Arial, sans-serif" font-weight="bold">1</text>
<line x1="424.42" y1="2227.6" x2="424.42" y2="2241.6" stroke="#000" stroke-width="3.8" stroke-linecap="butt"/>
<text x="424.42" y="2265.8" font-size="22.3" text-anchor="middle" font-family="Liberation Sans, Arial, sans-serif" font-weight="bold">3</text>
<line x1="550.39" y1="2227.6" x2="550.39" y2="2241.6" stroke="#000" stroke-width="3.8" stroke-linecap="butt"/>
<text x="550.39" y="2265.8" font-size="22.3" text-anchor="middle" font-family="Liberation Sans, Arial, sans-serif" font-weight="bold">5</text>
<text x="622.09" y="2265.6" font-size="21.5" text-anchor="start" font-family="Liberation Sans, Arial, sans-serif" font-weight="bold">days</text>
<g transform="translate(49.64 2064.03) rotate(-90) scale(1.035 1)"><text x="0" y="0" font-size="21.8" text-anchor="middle" font-family="Liberation Sans, Arial, sans-serif" font-weight="bold">CTSK/β-actin ratio</text></g>
<circle cx="154.26" cy="1904.95" r="6.6"/>
<rect x="147.76" y="1920.55" width="13" height="13"/>
<polygon points="154.26,1941.4 160.76,1953.4 147.76,1953.4"/>
<text x="192.64" y="1912.25" font-size="22.2" text-anchor="start" font-family="Liberation Sans, Arial, sans-serif" font-weight="bold">Blank</text>
<text x="192.64" y="1934.35" font-size="22.2" text-anchor="start" font-family="Liberation Sans, Arial, sans-serif" font-weight="bold">LV-NC</text>
<text x="192.64" y="1955.66" font-size="22.2" text-anchor="start" font-family="Liberation Sans, Arial, sans-serif" font-weight="bold">LV-Dusp1</text>
<line x1="137.6" y1="2168.29" x2="137.6" y2="2210.93" stroke="#780a9e" stroke-width="3.1" stroke-linecap="butt"/>
<line x1="132.55" y1="2168.29" x2="142.65" y2="2168.29" stroke="#780a9e" stroke-width="3.1" stroke-linecap="round"/>
<line x1="132.55" y1="2210.93" x2="142.65" y2="2210.93" stroke="#780a9e" stroke-width="3.1" stroke-linecap="round"/>
<circle cx="137.6" cy="2190" r="6.6"/>
<line x1="172.48" y1="2160.93" x2="172.48" y2="2210.93" stroke="#ff0f87" stroke-width="3.1" stroke-linecap="butt"/>
<line x1="167.43" y1="2160.93" x2="177.53" y2="2160.93" stroke="#ff0f87" stroke-width="3.1" stroke-linecap="round"/>
<line x1="167.43" y1="2210.93" x2="177.53" y2="2210.93" stroke="#ff0f87" stroke-width="3.1" stroke-linecap="round"/>
<rect x="165.98" y="2179.62" width="13" height="13"/>
<line x1="206.59" y1="2179.53" x2="206.59" y2="2207.83" stroke="#ff8a12" stroke-width="3.1" stroke-linecap="butt"/>
<line x1="201.54" y1="2179.53" x2="211.64" y2="2179.53" stroke="#ff8a12" stroke-width="3.1" stroke-linecap="round"/>
<line x1="201.54" y1="2207.83" x2="211.64" y2="2207.83" stroke="#ff8a12" stroke-width="3.1" stroke-linecap="round"/>
<polygon points="206.59,2186.63 213.34,2199.13 199.84,2199.13"/>
<line x1="264.34" y1="2155.89" x2="264.34" y2="2194.65" stroke="#780a9e" stroke-width="3.1" stroke-linecap="butt"/>
<line x1="259.29" y1="2155.89" x2="269.39" y2="2155.89" stroke="#780a9e" stroke-width="3.1" stroke-linecap="round"/>
<line x1="259.29" y1="2194.65" x2="269.39" y2="2194.65" stroke="#780a9e" stroke-width="3.1" stroke-linecap="round"/>
<circle cx="264.34" cy="2175.27" r="6.6"/>
<line x1="298.06" y1="2168.29" x2="298.06" y2="2206.28" stroke="#ff0f87" stroke-width="3.1" stroke-linecap="butt"/>
<line x1="293.01" y1="2168.29" x2="303.11" y2="2168.29" stroke="#ff0f87" stroke-width="3.1" stroke-linecap="round"/>
<line x1="293.01" y1="2206.28" x2="303.11" y2="2206.28" stroke="#ff0f87" stroke-width="3.1" stroke-linecap="round"/>
<rect x="291.56" y="2181.17" width="13" height="13"/>
<line x1="333.33" y1="2183.8" x2="333.33" y2="2207.44" stroke="#ff8a12" stroke-width="3.1" stroke-linecap="butt"/>
<line x1="328.28" y1="2183.8" x2="338.38" y2="2183.8" stroke="#ff8a12" stroke-width="3.1" stroke-linecap="round"/>
<line x1="328.28" y1="2207.44" x2="338.38" y2="2207.44" stroke="#ff8a12" stroke-width="3.1" stroke-linecap="round"/>
<polygon points="333.33,2188.56 340.08,2201.06 326.58,2201.06"/>
<line x1="390.31" y1="2020.62" x2="390.31" y2="2103.95" stroke="#780a9e" stroke-width="3.1" stroke-linecap="butt"/>
<line x1="385.26" y1="2020.62" x2="395.36" y2="2020.62" stroke="#780a9e" stroke-width="3.1" stroke-linecap="round"/>
<line x1="385.26" y1="2103.95" x2="395.36" y2="2103.95" stroke="#780a9e" stroke-width="3.1" stroke-linecap="round"/>
<circle cx="390.31" cy="2062.87" r="6.6"/>
<line x1="424.81" y1="2093.88" x2="424.81" y2="2109.38" stroke="#ff0f87" stroke-width="3.1" stroke-linecap="butt"/>
<line x1="419.76" y1="2093.88" x2="429.86" y2="2093.88" stroke="#ff0f87" stroke-width="3.1" stroke-linecap="round"/>
<line x1="419.76" y1="2109.38" x2="429.86" y2="2109.38" stroke="#ff0f87" stroke-width="3.1" stroke-linecap="round"/>
<rect x="418.31" y="2095.52" width="13" height="13"/>
<line x1="459.3" y1="2188.84" x2="459.3" y2="2212.87" stroke="#ff8a12" stroke-width="3.1" stroke-linecap="butt"/>
<line x1="454.25" y1="2188.84" x2="464.35" y2="2188.84" stroke="#ff8a12" stroke-width="3.1" stroke-linecap="round"/>
<line x1="454.25" y1="2212.87" x2="464.35" y2="2212.87" stroke="#ff8a12" stroke-width="3.1" stroke-linecap="round"/>
<polygon points="459.3,2194.38 466.05,2206.88 452.55,2206.88"/>
<line x1="516.67" y1="1957.44" x2="516.67" y2="2018.29" stroke="#780a9e" stroke-width="3.1" stroke-linecap="butt"/>
<line x1="511.62" y1="1957.44" x2="521.72" y2="1957.44" stroke="#780a9e" stroke-width="3.1" stroke-linecap="round"/>
<line x1="511.62" y1="2018.29" x2="521.72" y2="2018.29" stroke="#780a9e" stroke-width="3.1" stroke-linecap="round"/>
<circle cx="516.67" cy="1988.06" r="6.6"/>
<line x1="550.78" y1="2003.95" x2="550.78" y2="2057.05" stroke="#ff0f87" stroke-width="3.1" stroke-linecap="butt"/>
<line x1="545.73" y1="2003.95" x2="555.83" y2="2003.95" stroke="#ff0f87" stroke-width="3.1" stroke-linecap="round"/>
<line x1="545.73" y1="2057.05" x2="555.83" y2="2057.05" stroke="#ff0f87" stroke-width="3.1" stroke-linecap="round"/>
<rect x="544.28" y="2024.2" width="13" height="13"/>
<line x1="585.27" y1="2114.81" x2="585.27" y2="2157.05" stroke="#ff8a12" stroke-width="3.1" stroke-linecap="butt"/>
<line x1="580.22" y1="2114.81" x2="590.32" y2="2114.81" stroke="#ff8a12" stroke-width="3.1" stroke-linecap="round"/>
<line x1="580.22" y1="2157.05" x2="590.32" y2="2157.05" stroke="#ff8a12" stroke-width="3.1" stroke-linecap="round"/>
<polygon points="585.27,2129.65 592.02,2142.15 578.52,2142.15"/>
<line x1="392.06" y1="2012.01" x2="457.55" y2="2012.01" stroke="#000" stroke-width="3.5" stroke-linecap="round"/>
<text x="423.64" y="2007.34" font-size="25" text-anchor="middle" font-family="Liberation Sans, Arial, sans-serif" font-weight="bold">*</text>
<line x1="426.94" y1="2086.04" x2="457.55" y2="2086.04" stroke="#000" stroke-width="3.5" stroke-linecap="round"/>
<text x="440.7" y="2081.37" font-size="25" text-anchor="middle" font-family="Liberation Sans, Arial, sans-serif" font-weight="bold">**</text>
<line x1="518.42" y1="1948.44" x2="583.52" y2="1948.44" stroke="#000" stroke-width="3.5" stroke-linecap="round"/>
<text x="549.61" y="1943.39" font-size="25" text-anchor="middle" font-family="Liberation Sans, Arial, sans-serif" font-weight="bold">**</text>
<line x1="552.53" y1="1995.73" x2="583.52" y2="1995.73" stroke="#000" stroke-width="3.5" stroke-linecap="round"/>
<text x="567.44" y="1990.67" font-size="25" text-anchor="middle" font-family="Liberation Sans, Arial, sans-serif" font-weight="bold">*</text>
<g transform="translate(689.12 1900.47) scale(0.8 1)"><text x="0" y="0" font-size="78" text-anchor="start" font-family="Liberation Sans, Arial, sans-serif">I</text></g>
<line x1="777.44" y1="1898.18" x2="777.44" y2="2229.5" stroke="#000" stroke-width="3.8" stroke-linecap="butt"/>
<line x1="775.54" y1="2227.6" x2="1272.4" y2="2227.6" stroke="#000" stroke-width="3.8" stroke-linecap="butt"/>
<line x1="763.94" y1="1900.08" x2="777.44" y2="1900.08" stroke="#000" stroke-width="3.8" stroke-linecap="butt"/>
<text x="760.14" y="1908.08" font-size="22.3" text-anchor="end" font-family="Liberation Sans, Arial, sans-serif" font-weight="bold">2.5</text>
<line x1="763.94" y1="1965.58" x2="777.44" y2="1965.58" stroke="#000" stroke-width="3.8" stroke-linecap="butt"/>
<text x="760.14" y="1973.58" font-size="22.3" text-anchor="end" font-family="Liberation Sans, Arial, sans-serif" font-weight="bold">2.0</text>
<line x1="763.94" y1="2031.09" x2="777.44" y2="2031.09" stroke="#000" stroke-width="3.8" stroke-linecap="butt"/>
<text x="760.14" y="2039.09" font-size="22.3" text-anchor="end" font-family="Liberation Sans, Arial, sans-serif" font-weight="bold">1.5</text>
<line x1="763.94" y1="2096.59" x2="777.44" y2="2096.59" stroke="#000" stroke-width="3.8" stroke-linecap="butt"/>
<text x="760.14" y="2104.59" font-size="22.3" text-anchor="end" font-family="Liberation Sans, Arial, sans-serif" font-weight="bold">1.0</text>
<line x1="763.94" y1="2162.09" x2="777.44" y2="2162.09" stroke="#000" stroke-width="3.8" stroke-linecap="butt"/>
<text x="760.14" y="2170.09" font-size="22.3" text-anchor="end" font-family="Liberation Sans, Arial, sans-serif" font-weight="bold">0.5</text>
<line x1="763.94" y1="2227.6" x2="777.44" y2="2227.6" stroke="#000" stroke-width="3.8" stroke-linecap="butt"/>
<text x="760.14" y="2235.6" font-size="22.3" text-anchor="end" font-family="Liberation Sans, Arial, sans-serif" font-weight="bold">0.0</text>
<line x1="834.42" y1="2227.6" x2="834.42" y2="2241.6" stroke="#000" stroke-width="3.8" stroke-linecap="butt"/>
<text x="834.42" y="2265.8" font-size="22.3" text-anchor="middle" font-family="Liberation Sans, Arial, sans-serif" font-weight="bold">0</text>
<line x1="961.16" y1="2227.6" x2="961.16" y2="2241.6" stroke="#000" stroke-width="3.8" stroke-linecap="butt"/>
<text x="961.16" y="2265.8" font-size="22.3" text-anchor="middle" font-family="Liberation Sans, Arial, sans-serif" font-weight="bold">1</text>
<line x1="1087.13" y1="2227.6" x2="1087.13" y2="2241.6" stroke="#000" stroke-width="3.8" stroke-linecap="butt"/>
<text x="1087.13" y="2265.8" font-size="22.3" text-anchor="middle" font-family="Liberation Sans, Arial, sans-serif" font-weight="bold">3</text>
<line x1="1213.49" y1="2227.6" x2="1213.49" y2="2241.6" stroke="#000" stroke-width="3.8" stroke-linecap="butt"/>
<text x="1213.49" y="2265.8" font-size="22.3" text-anchor="middle" font-family="Liberation Sans, Arial, sans-serif" font-weight="bold">5</text>
<text x="1284.81" y="2265.6" font-size="21.5" text-anchor="start" font-family="Liberation Sans, Arial, sans-serif" font-weight="bold">days</text>
<g transform="translate(712.74 2065.58) rotate(-90) scale(1.035 1)"><text x="0" y="0" font-size="21.8" text-anchor="middle" font-family="Liberation Sans, Arial, sans-serif" font-weight="bold">c-Fos/β-actin ratio</text></g>
<circle cx="818.91" cy="1905.73" r="6.6"/>
<rect x="812.41" y="1921.32" width="13" height="13"/>
<polygon points="818.91,1942.57 825.41,1954.57 812.41,1954.57"/>
<text x="856.9" y="1913.03" font-size="22.2" text-anchor="start" font-family="Liberation Sans, Arial, sans-serif" font-weight="bold">Blank</text>
<text x="856.9" y="1935.12" font-size="22.2" text-anchor="start" font-family="Liberation Sans, Arial, sans-serif" font-weight="bold">LV-NC</text>
<text x="856.9" y="1956.83" font-size="22.2" text-anchor="start" font-family="Liberation Sans, Arial, sans-serif" font-weight="bold">LV-Dusp1</text>
<line x1="800.7" y1="2155.89" x2="800.7" y2="2199.3" stroke="#780a9e" stroke-width="3.1" stroke-linecap="butt"/>
<line x1="795.65" y1="2155.89" x2="805.75" y2="2155.89" stroke="#780a9e" stroke-width="3.1" stroke-linecap="round"/>
<line x1="795.65" y1="2199.3" x2="805.75" y2="2199.3" stroke="#780a9e" stroke-width="3.1" stroke-linecap="round"/>
<circle cx="800.7" cy="2177.98" r="6.6"/>
<line x1="835.19" y1="2167.52" x2="835.19" y2="2191.94" stroke="#ff0f87" stroke-width="3.1" stroke-linecap="butt"/>
<line x1="830.14" y1="2167.52" x2="840.24" y2="2167.52" stroke="#ff0f87" stroke-width="3.1" stroke-linecap="round"/>
<line x1="830.14" y1="2191.94" x2="840.24" y2="2191.94" stroke="#ff0f87" stroke-width="3.1" stroke-linecap="round"/>
<rect x="828.69" y="2173.42" width="13" height="13"/>
<line x1="869.69" y1="2148.14" x2="869.69" y2="2217.91" stroke="#ff8a12" stroke-width="3.1" stroke-linecap="butt"/>
<line x1="864.64" y1="2148.14" x2="874.74" y2="2148.14" stroke="#ff8a12" stroke-width="3.1" stroke-linecap="round"/>
<line x1="864.64" y1="2217.91" x2="874.74" y2="2217.91" stroke="#ff8a12" stroke-width="3.1" stroke-linecap="round"/>
<polygon points="869.69,2176.94 876.44,2189.44 862.94,2189.44"/>
<line x1="926.67" y1="2100.47" x2="926.67" y2="2128.76" stroke="#780a9e" stroke-width="3.1" stroke-linecap="butt"/>
<line x1="921.62" y1="2100.47" x2="931.72" y2="2100.47" stroke="#780a9e" stroke-width="3.1" stroke-linecap="round"/>
<line x1="921.62" y1="2128.76" x2="931.72" y2="2128.76" stroke="#780a9e" stroke-width="3.1" stroke-linecap="round"/>
<circle cx="926.67" cy="2114.81" r="6.6"/>
<line x1="961.16" y1="2098.91" x2="961.16" y2="2129.92" stroke="#ff0f87" stroke-width="3.1" stroke-linecap="butt"/>
<line x1="956.11" y1="2098.91" x2="966.21" y2="2098.91" stroke="#ff0f87" stroke-width="3.1" stroke-linecap="round"/>
<line x1="956.11" y1="2129.92" x2="966.21" y2="2129.92" stroke="#ff0f87" stroke-width="3.1" stroke-linecap="round"/>
<rect x="954.66" y="2109.08" width="13" height="13"/>
<line x1="996.05" y1="2160.93" x2="996.05" y2="2214.03" stroke="#ff8a12" stroke-width="3.1" stroke-linecap="butt"/>
<line x1="991" y1="2160.93" x2="1001.1" y2="2160.93" stroke="#ff8a12" stroke-width="3.1" stroke-linecap="round"/>
<line x1="991" y1="2214.03" x2="1001.1" y2="2214.03" stroke="#ff8a12" stroke-width="3.1" stroke-linecap="round"/>
<polygon points="996.05,2181.97 1002.8,2194.47 989.3,2194.47"/>
<line x1="1053.02" y1="1976.43" x2="1053.02" y2="2040.78" stroke="#780a9e" stroke-width="3.1" stroke-linecap="butt"/>
<line x1="1047.97" y1="1976.43" x2="1058.07" y2="1976.43" stroke="#780a9e" stroke-width="3.1" stroke-linecap="round"/>
<line x1="1047.97" y1="2040.78" x2="1058.07" y2="2040.78" stroke="#780a9e" stroke-width="3.1" stroke-linecap="round"/>
<circle cx="1053.02" cy="2008.99" r="6.6"/>
<line x1="1087.52" y1="1994.65" x2="1087.52" y2="2065.58" stroke="#ff0f87" stroke-width="3.1" stroke-linecap="butt"/>
<line x1="1082.47" y1="1994.65" x2="1092.57" y2="1994.65" stroke="#ff0f87" stroke-width="3.1" stroke-linecap="round"/>
<line x1="1082.47" y1="2065.58" x2="1092.57" y2="2065.58" stroke="#ff0f87" stroke-width="3.1" stroke-linecap="round"/>
<rect x="1081.02" y="2024.2" width="13" height="13"/>
<line x1="1122.02" y1="2137.67" x2="1122.02" y2="2165.58" stroke="#ff8a12" stroke-width="3.1" stroke-linecap="butt"/>
<line x1="1116.97" y1="2137.67" x2="1127.07" y2="2137.67" stroke="#ff8a12" stroke-width="3.1" stroke-linecap="round"/>
<line x1="1116.97" y1="2165.58" x2="1127.07" y2="2165.58" stroke="#ff8a12" stroke-width="3.1" stroke-linecap="round"/>
<polygon points="1122.02,2144.77 1128.77,2157.27 1115.27,2157.27"/>
<line x1="1179.38" y1="2088.06" x2="1179.38" y2="2127.21" stroke="#780a9e" stroke-width="3.1" stroke-linecap="butt"/>
<line x1="1174.33" y1="2088.06" x2="1184.43" y2="2088.06" stroke="#780a9e" stroke-width="3.1" stroke-linecap="round"/>
<line x1="1174.33" y1="2127.21" x2="1184.43" y2="2127.21" stroke="#780a9e" stroke-width="3.1" stroke-linecap="round"/>
<circle cx="1179.38" cy="2107.83" r="6.6"/>
<line x1="1213.49" y1="2086.51" x2="1213.49" y2="2134.57" stroke="#ff0f87" stroke-width="3.1" stroke-linecap="butt"/>
<line x1="1208.44" y1="2086.51" x2="1218.54" y2="2086.51" stroke="#ff0f87" stroke-width="3.1" stroke-linecap="round"/>
<line x1="1208.44" y1="2134.57" x2="1218.54" y2="2134.57" stroke="#ff0f87" stroke-width="3.1" stroke-linecap="round"/>
<rect x="1206.99" y="2104.43" width="13" height="13"/>
<line x1="1247.98" y1="2178.37" x2="1247.98" y2="2210.93" stroke="#ff8a12" stroke-width="3.1" stroke-linecap="butt"/>
<line x1="1242.93" y1="2178.37" x2="1253.03" y2="2178.37" stroke="#ff8a12" stroke-width="3.1" stroke-linecap="round"/>
<line x1="1242.93" y1="2210.93" x2="1253.03" y2="2210.93" stroke="#ff8a12" stroke-width="3.1" stroke-linecap="round"/>
<polygon points="1247.98,2188.18 1254.73,2200.68 1241.23,2200.68"/>
<line x1="929.19" y1="2057.74" x2="994.3" y2="2057.74" stroke="#000" stroke-width="3.5" stroke-linecap="round"/>
<text x="960.39" y="2052.69" font-size="25" text-anchor="middle" font-family="Liberation Sans, Arial, sans-serif" font-weight="bold">*</text>
<line x1="963.69" y1="2090.69" x2="994.3" y2="2090.69" stroke="#000" stroke-width="3.5" stroke-linecap="round"/>
<text x="977.05" y="2085.63" font-size="25" text-anchor="middle" font-family="Liberation Sans, Arial, sans-serif" font-weight="bold">*</text>
<line x1="1055.55" y1="1951.54" x2="1120.27" y2="1951.54" stroke="#000" stroke-width="3.5" stroke-linecap="round"/>
<text x="1085.97" y="1946.49" font-size="25" text-anchor="middle" font-family="Liberation Sans, Arial, sans-serif" font-weight="bold">*</text>
<line x1="1089.66" y1="1985.65" x2="1120.27" y2="1985.65" stroke="#000" stroke-width="3.5" stroke-linecap="round"/>
<text x="1103.41" y="1980.21" font-size="25" text-anchor="middle" font-family="Liberation Sans, Arial, sans-serif" font-weight="bold">*</text>
<line x1="1181.52" y1="2044.56" x2="1246.23" y2="2044.56" stroke="#000" stroke-width="3.5" stroke-linecap="round"/>
<text x="1211.55" y="2039.9" font-size="25" text-anchor="middle" font-family="Liberation Sans, Arial, sans-serif" font-weight="bold">**</text>
<line x1="1215.63" y1="2077.12" x2="1246.23" y2="2077.12" stroke="#000" stroke-width="3.5" stroke-linecap="round"/>
<text x="1229.38" y="2072.46" font-size="25" text-anchor="middle" font-family="Liberation Sans, Arial, sans-serif" font-weight="bold">*</text>
<g transform="translate(1349.91 1902.02) scale(0.8 1)"><text x="0" y="0" font-size="84" text-anchor="start" font-family="Liberation Sans, Arial, sans-serif">J</text></g>
<line x1="1445.6" y1="1897.4" x2="1445.6" y2="2229.5" stroke="#000" stroke-width="3.8" stroke-linecap="butt"/>
<line x1="1443.7" y1="2227.6" x2="1940.95" y2="2227.6" stroke="#000" stroke-width="3.8" stroke-linecap="butt"/>
<line x1="1432.1" y1="1899.3" x2="1445.6" y2="1899.3" stroke="#000" stroke-width="3.8" stroke-linecap="butt"/>
<text x="1428.3" y="1907.3" font-size="22.3" text-anchor="end" font-family="Liberation Sans, Arial, sans-serif" font-weight="bold">2.5</text>
<line x1="1432.1" y1="1964.96" x2="1445.6" y2="1964.96" stroke="#000" stroke-width="3.8" stroke-linecap="butt"/>
<text x="1428.3" y="1972.96" font-size="22.3" text-anchor="end" font-family="Liberation Sans, Arial, sans-serif" font-weight="bold">2.0</text>
<line x1="1432.1" y1="2030.62" x2="1445.6" y2="2030.62" stroke="#000" stroke-width="3.8" stroke-linecap="butt"/>
<text x="1428.3" y="2038.62" font-size="22.3" text-anchor="end" font-family="Liberation Sans, Arial, sans-serif" font-weight="bold">1.5</text>
<line x1="1432.1" y1="2096.28" x2="1445.6" y2="2096.28" stroke="#000" stroke-width="3.8" stroke-linecap="butt"/>
<text x="1428.3" y="2104.28" font-size="22.3" text-anchor="end" font-family="Liberation Sans, Arial, sans-serif" font-weight="bold">1.0</text>
<line x1="1432.1" y1="2161.94" x2="1445.6" y2="2161.94" stroke="#000" stroke-width="3.8" stroke-linecap="butt"/>
<text x="1428.3" y="2169.94" font-size="22.3" text-anchor="end" font-family="Liberation Sans, Arial, sans-serif" font-weight="bold">0.5</text>
<line x1="1432.1" y1="2227.6" x2="1445.6" y2="2227.6" stroke="#000" stroke-width="3.8" stroke-linecap="butt"/>
<text x="1428.3" y="2235.6" font-size="22.3" text-anchor="end" font-family="Liberation Sans, Arial, sans-serif" font-weight="bold">0.0</text>
<line x1="1502.57" y1="2227.6" x2="1502.57" y2="2241.6" stroke="#000" stroke-width="3.8" stroke-linecap="butt"/>
<text x="1502.57" y="2265.8" font-size="22.3" text-anchor="middle" font-family="Liberation Sans, Arial, sans-serif" font-weight="bold">0</text>
<line x1="1628.93" y1="2227.6" x2="1628.93" y2="2241.6" stroke="#000" stroke-width="3.8" stroke-linecap="butt"/>
<text x="1628.93" y="2265.8" font-size="22.3" text-anchor="middle" font-family="Liberation Sans, Arial, sans-serif" font-weight="bold">1</text>
<line x1="1754.9" y1="2227.6" x2="1754.9" y2="2241.6" stroke="#000" stroke-width="3.8" stroke-linecap="butt"/>
<text x="1754.9" y="2265.8" font-size="22.3" text-anchor="middle" font-family="Liberation Sans, Arial, sans-serif" font-weight="bold">3</text>
<line x1="1881.64" y1="2227.6" x2="1881.64" y2="2241.6" stroke="#000" stroke-width="3.8" stroke-linecap="butt"/>
<text x="1881.64" y="2265.8" font-size="22.3" text-anchor="middle" font-family="Liberation Sans, Arial, sans-serif" font-weight="bold">5</text>
<text x="1952.57" y="2265.6" font-size="21.5" text-anchor="start" font-family="Liberation Sans, Arial, sans-serif" font-weight="bold">days</text>
<g transform="translate(1380.12 2065.58) rotate(-90) scale(1.035 1)"><text x="0" y="0" font-size="21.8" text-anchor="middle" font-family="Liberation Sans, Arial, sans-serif" font-weight="bold">NFATc1/β-actin ratio</text></g>
<circle cx="1488.23" cy="1905.73" r="6.6"/>
<rect x="1481.73" y="1921.32" width="13" height="13"/>
<polygon points="1488.23,1942.57 1494.73,1954.57 1481.73,1954.57"/>
<text x="1526.22" y="1913.03" font-size="22.2" text-anchor="start" font-family="Liberation Sans, Arial, sans-serif" font-weight="bold">Blank</text>
<text x="1526.22" y="1935.12" font-size="22.2" text-anchor="start" font-family="Liberation Sans, Arial, sans-serif" font-weight="bold">LV-NC</text>
<text x="1526.22" y="1956.83" font-size="22.2" text-anchor="start" font-family="Liberation Sans, Arial, sans-serif" font-weight="bold">LV-Dusp1</text>
<line x1="1468.08" y1="2170.62" x2="1468.08" y2="2195.43" stroke="#780a9e" stroke-width="3.1" stroke-linecap="butt"/>
<line x1="1463.03" y1="2170.62" x2="1473.13" y2="2170.62" stroke="#780a9e" stroke-width="3.1" stroke-linecap="round"/>
<line x1="1463.03" y1="2195.43" x2="1473.13" y2="2195.43" stroke="#780a9e" stroke-width="3.1" stroke-linecap="round"/>
<circle cx="1468.08" cy="2183.02" r="6.6"/>
<line x1="1502.57" y1="2140.39" x2="1502.57" y2="2220.62" stroke="#ff0f87" stroke-width="3.1" stroke-linecap="butt"/>
<line x1="1497.52" y1="2140.39" x2="1507.62" y2="2140.39" stroke="#ff0f87" stroke-width="3.1" stroke-linecap="round"/>
<line x1="1497.52" y1="2220.62" x2="1507.62" y2="2220.62" stroke="#ff0f87" stroke-width="3.1" stroke-linecap="round"/>
<rect x="1496.07" y="2174.59" width="13" height="13"/>
<polygon points="1537.07,2184.69 1543.82,2197.19 1530.32,2197.19"/>
<line x1="1594.82" y1="2130.7" x2="1594.82" y2="2148.91" stroke="#780a9e" stroke-width="3.1" stroke-linecap="butt"/>
<line x1="1589.77" y1="2130.7" x2="1599.87" y2="2130.7" stroke="#780a9e" stroke-width="3.1" stroke-linecap="round"/>
<line x1="1589.77" y1="2148.91" x2="1599.87" y2="2148.91" stroke="#780a9e" stroke-width="3.1" stroke-linecap="round"/>
<circle cx="1594.82" cy="2140" r="6.6"/>
<line x1="1628.93" y1="2106.67" x2="1628.93" y2="2147.36" stroke="#ff0f87" stroke-width="3.1" stroke-linecap="butt"/>
<line x1="1623.88" y1="2106.67" x2="1633.98" y2="2106.67" stroke="#ff0f87" stroke-width="3.1" stroke-linecap="round"/>
<line x1="1623.88" y1="2147.36" x2="1633.98" y2="2147.36" stroke="#ff0f87" stroke-width="3.1" stroke-linecap="round"/>
<rect x="1622.43" y="2121.1" width="13" height="13"/>
<line x1="1663.43" y1="2195.43" x2="1663.43" y2="2202.4" stroke="#ff8a12" stroke-width="3.1" stroke-linecap="butt"/>
<line x1="1658.38" y1="2195.43" x2="1668.48" y2="2195.43" stroke="#ff8a12" stroke-width="3.1" stroke-linecap="round"/>
<line x1="1658.38" y1="2202.4" x2="1668.48" y2="2202.4" stroke="#ff8a12" stroke-width="3.1" stroke-linecap="round"/>
<polygon points="1663.43,2191.28 1670.18,2203.78 1656.68,2203.78"/>
<line x1="1720.79" y1="1985.74" x2="1720.79" y2="2058.99" stroke="#780a9e" stroke-width="3.1" stroke-linecap="butt"/>
<line x1="1715.74" y1="1985.74" x2="1725.84" y2="1985.74" stroke="#780a9e" stroke-width="3.1" stroke-linecap="round"/>
<line x1="1715.74" y1="2058.99" x2="1725.84" y2="2058.99" stroke="#780a9e" stroke-width="3.1" stroke-linecap="round"/>
<circle cx="1720.79" cy="2022.17" r="6.6"/>
<line x1="1755.29" y1="2003.18" x2="1755.29" y2="2072.95" stroke="#ff0f87" stroke-width="3.1" stroke-linecap="butt"/>
<line x1="1750.24" y1="2003.18" x2="1760.34" y2="2003.18" stroke="#ff0f87" stroke-width="3.1" stroke-linecap="round"/>
<line x1="1750.24" y1="2072.95" x2="1760.34" y2="2072.95" stroke="#ff0f87" stroke-width="3.1" stroke-linecap="round"/>
<rect x="1748.79" y="2032.34" width="13" height="13"/>
<line x1="1789.78" y1="2164.81" x2="1789.78" y2="2176.43" stroke="#ff8a12" stroke-width="3.1" stroke-linecap="butt"/>
<line x1="1784.73" y1="2164.81" x2="1794.83" y2="2164.81" stroke="#ff8a12" stroke-width="3.1" stroke-linecap="round"/>
<line x1="1784.73" y1="2176.43" x2="1794.83" y2="2176.43" stroke="#ff8a12" stroke-width="3.1" stroke-linecap="round"/>
<polygon points="1789.78,2164.15 1796.53,2176.65 1783.03,2176.65"/>
<line x1="1847.53" y1="2115.97" x2="1847.53" y2="2137.29" stroke="#780a9e" stroke-width="3.1" stroke-linecap="butt"/>
<line x1="1842.48" y1="2115.97" x2="1852.58" y2="2115.97" stroke="#780a9e" stroke-width="3.1" stroke-linecap="round"/>
<line x1="1842.48" y1="2137.29" x2="1852.58" y2="2137.29" stroke="#780a9e" stroke-width="3.1" stroke-linecap="round"/>
<circle cx="1847.53" cy="2127.21" r="6.6"/>
<line x1="1882.03" y1="2104.73" x2="1882.03" y2="2124.11" stroke="#ff0f87" stroke-width="3.1" stroke-linecap="butt"/>
<line x1="1876.98" y1="2104.73" x2="1887.08" y2="2104.73" stroke="#ff0f87" stroke-width="3.1" stroke-linecap="round"/>
<line x1="1876.98" y1="2124.11" x2="1887.08" y2="2124.11" stroke="#ff0f87" stroke-width="3.1" stroke-linecap="round"/>
<rect x="1875.53" y="2108.69" width="13" height="13"/>
<line x1="1916.53" y1="2200.08" x2="1916.53" y2="2206.28" stroke="#ff8a12" stroke-width="3.1" stroke-linecap="butt"/>
<line x1="1911.48" y1="2200.08" x2="1921.58" y2="2200.08" stroke="#ff8a12" stroke-width="3.1" stroke-linecap="round"/>
<line x1="1911.48" y1="2206.28" x2="1921.58" y2="2206.28" stroke="#ff8a12" stroke-width="3.1" stroke-linecap="round"/>
<polygon points="1916.53,2195.93 1923.28,2208.43 1909.78,2208.43"/>
<line x1="1596.96" y1="2062.39" x2="1661.68" y2="2062.39" stroke="#000" stroke-width="3.5" stroke-linecap="round"/>
<text x="1627.38" y="2057.73" font-size="25" text-anchor="middle" font-family="Liberation Sans, Arial, sans-serif" font-weight="bold">*</text>
<line x1="1631.46" y1="2097.66" x2="1661.68" y2="2097.66" stroke="#000" stroke-width="3.5" stroke-linecap="round"/>
<text x="1645.21" y="2092.61" font-size="25" text-anchor="middle" font-family="Liberation Sans, Arial, sans-serif" font-weight="bold">*</text>
<line x1="1723.32" y1="1956.19" x2="1787.65" y2="1956.19" stroke="#000" stroke-width="3.5" stroke-linecap="round"/>
<text x="1753.74" y="1951.52" font-size="25" text-anchor="middle" font-family="Liberation Sans, Arial, sans-serif" font-weight="bold">*</text>
<line x1="1758.2" y1="1991.46" x2="1787.65" y2="1991.46" stroke="#000" stroke-width="3.5" stroke-linecap="round"/>
<text x="1771.57" y="1986.41" font-size="25" text-anchor="middle" font-family="Liberation Sans, Arial, sans-serif" font-weight="bold">*</text>
<line x1="1850.06" y1="2060.84" x2="1914" y2="2060.84" stroke="#000" stroke-width="3.5" stroke-linecap="round"/>
<text x="1880.09" y="2055.4" font-size="25" text-anchor="middle" font-family="Liberation Sans, Arial, sans-serif" font-weight="bold">**</text>
<line x1="1884.17" y1="2096.11" x2="1914" y2="2096.11" stroke="#000" stroke-width="3.5" stroke-linecap="round"/>
<text x="1897.15" y="2090.67" font-size="25" text-anchor="middle" font-family="Liberation Sans, Arial, sans-serif" font-weight="bold">**</text>
</svg></body></html>
